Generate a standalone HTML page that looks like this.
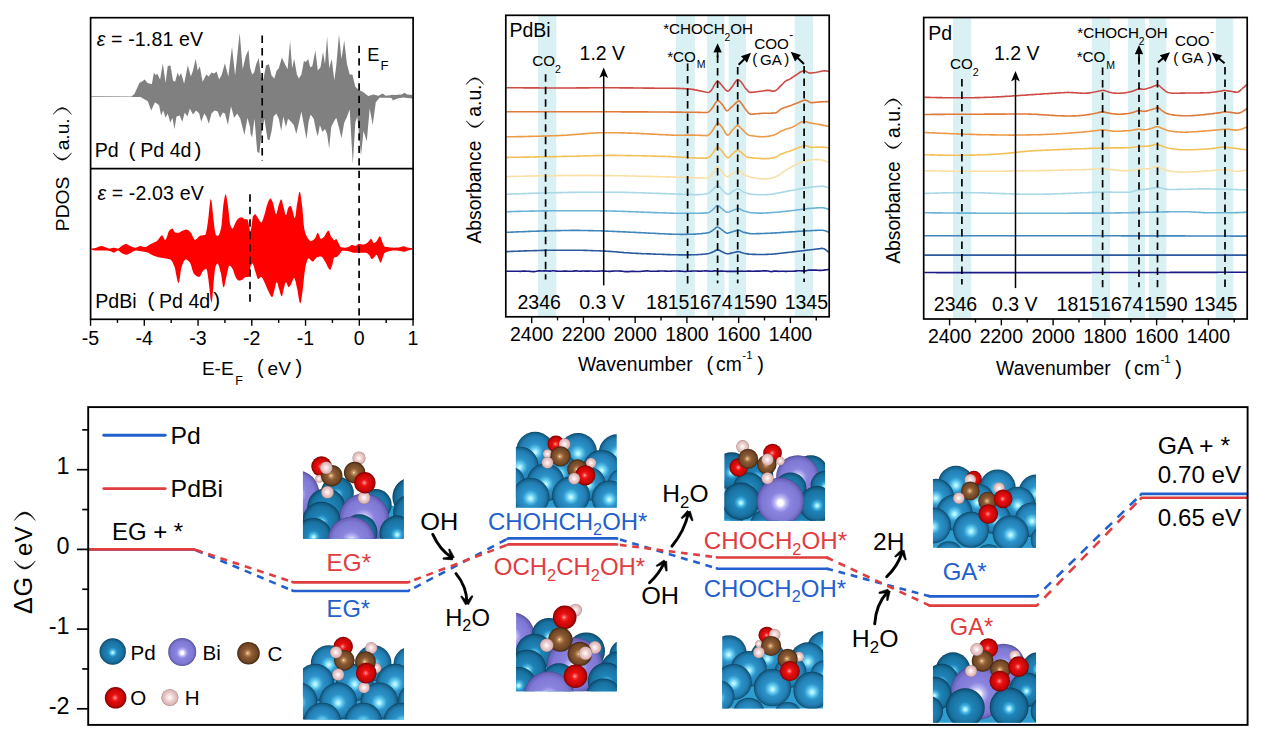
<!DOCTYPE html>
<html><head><meta charset="utf-8"><title>figure</title>
<style>
html,body{margin:0;padding:0;background:#fff;}
body{width:1269px;height:730px;overflow:hidden;font-family:"Liberation Sans",sans-serif;}
svg{display:block;font-family:"Liberation Sans",sans-serif;}
</style></head><body>
<svg width="1269" height="730" viewBox="0 0 1269 730">
<rect x="0" y="0" width="1269" height="730" fill="#fff"/>
<g id="p1">
<path d="M91.3,96.2 131.3,96.5 134.4,94 139.5,82.7 141.6,81.7 144.7,79.6 147.8,83.3 151.9,84.1 153.9,72.4 155.4,75.1 157.4,73.9 160.1,79.6 162.8,63.2 165.6,82.7 167.7,66.3 170.4,65.2 173,80.6 175.1,81.7 177.6,72.4 179.2,76.5 181.1,73 184.1,83.7 187.8,65.2 190.9,76.5 193,70.4 195.7,58.7 197.7,70.4 199.8,66.3 202.6,81.7 206.3,74.5 208.8,76.5 211.5,72.4 214.2,73.5 216.6,71.4 219.1,79.6 221.8,74.5 224.9,63.2 228.3,76.5 232,46.7 235.1,75.5 239.7,32.7 242.7,69.3 245.8,56 248.5,49.8 250,67.3 251.6,72.4 252.1,74.5 254.1,72.4 256.2,64.2 258.6,58 261.3,77.6 263.4,79.6 266,65.2 268.9,64.2 271.6,75.5 274.3,78.6 276.7,70.4 278.8,68.3 281.9,57.4 285,64.2 287.6,69.3 290.1,41 292.1,68.3 294.2,59.1 296.9,74.5 298.9,78.6 301.4,74.5 303.9,61.1 305.9,62.1 308.2,59.1 310.2,67.3 312.3,66.3 315.4,50.4 317.8,70.4 320.5,67.3 323,51.9 325,64.2 327.1,36.4 329.2,68.3 331.8,59.1 334.3,80.6 336.3,65.2 339,34.4 341.5,59.1 344.2,40.6 347,64.2 349.7,74.5 352.4,74.5 355.3,86.8 359,89.9 363.1,92 368.2,96.1 373.4,94.4 378.5,95.7 382.6,93.6 385.7,95.7 390,95.2 392.1,94.8 394.8,95.1 401.6,94.4 404.7,92.7 407.1,94.4 412.6,95.1 412.6,98.5 403,97.4 397.5,98.5 392.7,100.5 392.1,98.5 390,97.7 379.5,97.7 375.8,102.2 372.7,124.9 369.7,108.4 366.8,141.3 363.5,131 361,155.7 357.3,116.6 355.3,122.8 352.8,163.9 349.7,109.4 346.6,117.7 344.2,122.8 341.5,138.2 338.8,126.9 336.3,117.7 334.3,120.7 331.2,126.9 329.2,148.5 327.1,134.1 325,129 322.4,132 319.9,124.9 317.8,136.2 316.2,131 313.7,118.7 310.6,114.6 308.6,121.8 306.5,139.2 303.9,124.9 301.4,111.5 298.9,122.8 296.3,134.1 293.8,124.9 291.1,121.8 288,118.7 286,126.9 283.3,116.6 281.2,131 278.8,118.7 276.3,113.5 273.6,116.6 271.6,131 269.5,140.3 267.5,139.2 264.4,118.7 261.3,135.1 259.3,153.6 257.2,151.6 254.5,118.7 252.1,137.2 250.6,134.1 250,126.9 247.5,117.7 244.4,135.1 240.3,118.7 237.2,113.5 234.1,117.7 231,106.3 227.9,124.9 224.9,113.5 222.8,112.5 220.1,117.7 217.7,111.5 214.6,110.5 211.5,113.5 208.8,123.8 206.3,116.6 204.3,113.5 201.2,121.8 199.2,113.5 196.1,110.5 193,114.6 189.9,108.4 187.4,116.6 184.8,112.5 182.3,121.8 179.6,115.6 176.5,116.6 174.5,129 172.4,117.7 170.4,122.8 167.7,113.5 165.6,117.7 163.2,110.5 161.1,115.6 159.1,105.3 155,102.2 151.2,110.5 147.8,101.2 140.6,97.1 91.3,96.9Z" fill="#808080" stroke="none" stroke-width="0"/>
<path d="M91.2,248.7 91.8,248.6 92.4,248.5 93,248.4 93.7,248.3 94.3,248.2 94.9,248 95.6,247.9 96.2,247.7 96.8,247.6 97.4,247.3 98.1,247.1 98.7,246.8 99.3,246.6 99.9,246.3 100.6,246.2 101.2,246.1 101.8,246.1 102.5,246.2 103.1,246.4 103.7,246.6 104.3,246.8 105,247.1 105.6,247.4 106.2,247.6 106.8,247.8 107.5,248 108.1,248.2 108.7,248.4 109.4,248.5 110,248.5 110.6,248.4 111.2,248.3 111.9,248.1 112.5,247.9 113.1,247.8 113.7,247.7 114.4,247.8 115,247.9 115.6,248.1 116.2,248.2 116.9,248.4 117.5,248.5 118.1,248.5 118.8,248.3 119.4,247.9 120,247.3 120.6,246.7 121.3,246.2 121.9,245.7 122.5,245.4 123.1,245 123.8,244.7 124.4,244.4 125,244.2 125.7,244 126.3,244 126.9,244.2 127.5,244.5 128.2,244.8 128.8,245.2 129.4,245.7 130,246 130.7,246.2 131.3,246.5 131.9,246.8 132.5,247 133.2,247.3 133.8,247.5 134.4,247.6 135.1,247.7 135.7,247.7 136.3,247.6 136.9,247.3 137.6,247.1 138.2,246.8 138.8,246.5 139.4,246.3 140.1,246.1 140.7,246.1 141.3,246.2 142,246.4 142.6,246.6 143.2,246.8 143.8,247 144.5,247.1 145.1,247.1 145.7,246.9 146.3,246.7 147,246.4 147.6,246 148.2,245.6 148.9,245.2 149.5,244.8 150.1,244.4 150.7,244 151.4,243.7 152,243.5 152.6,243.2 153.2,242.9 153.9,242.6 154.5,242.3 155.1,242 155.7,241.7 156.4,241.3 157,240.9 157.6,240.3 158.3,239.5 158.9,238.7 159.5,237.7 160.1,236.9 160.8,236.1 161.4,235.6 162,235.4 162.6,235.8 163.3,236.8 163.9,238.2 164.5,239.4 165.2,239.9 165.8,239.4 166.4,238.2 167,236.4 167.7,234.5 168.3,232.6 168.9,231.2 169.5,230.4 170.2,229.8 170.8,229.3 171.4,228.9 172.1,228.6 172.7,228.7 173.3,229.5 173.9,230.7 174.6,231.9 175.2,232.6 175.8,232.7 176.4,232.7 177.1,232.7 177.7,232.7 178.3,232.7 178.9,232.7 179.6,232.4 180.2,232.1 180.8,231.7 181.5,231.3 182.1,230.9 182.7,230.6 183.3,230.4 184,230.2 184.6,230 185.2,229.8 185.8,229.7 186.5,229.6 187.1,229.7 187.7,229.9 188.4,230.2 189,230.8 189.6,231.4 190.2,232 190.9,232.7 191.5,233.6 192.1,234.9 192.7,236.4 193.4,237.8 194,239 194.6,239.8 195.2,239.9 195.9,239.6 196.5,239.1 197.1,238.5 197.8,237.8 198.4,237.1 199,236.5 199.6,236 200.3,235.7 200.9,235.6 201.5,235.5 202.1,235.4 202.8,235.3 203.4,235.3 204,235.1 204.7,235 205.3,234.8 205.9,233.4 206.5,230.4 207.2,226.5 207.8,222.4 208.4,217.8 209,211.5 209.7,205.1 210.3,200.3 210.9,198.8 211.6,201.4 212.2,206.6 212.8,212.9 213.4,218.8 214.1,224.4 214.7,229.8 215.3,233.1 215.9,235.1 216.6,235.5 217.2,235.7 217.8,235.8 218.4,235.6 219.1,234.7 219.7,233.1 220.3,231 221,228.5 221.6,224.8 222.2,218.1 222.8,210.3 223.5,204 224.1,200.2 224.7,196.8 225.3,194.6 226,194.6 226.6,197.3 227.2,201.5 227.9,205.6 228.5,210.8 229.1,216.7 229.7,222 230.4,225.4 231,226.8 231.6,227.9 232.2,228.5 232.9,228.4 233.5,227.4 234.1,225.8 234.8,224.2 235.4,222.7 236,221.7 236.6,220.7 237.3,219.7 237.9,218.9 238.5,218.4 239.1,218.1 239.8,217.8 240.4,217.5 241,217.4 241.6,217.3 242.3,217.5 242.9,218 243.5,218.6 244.2,219.1 244.8,219.3 245.4,219.3 246,219.3 246.7,219.3 247.3,219.3 247.9,220.3 248.5,223.6 249.2,226.7 249.8,230.2 250.4,231.7 251.1,229.3 251.7,224.7 252.3,219.7 252.9,216.5 253.6,215.4 254.2,214.7 254.8,214.3 255.4,214.3 256.1,214.9 256.7,215.9 257.3,217 257.9,218 258.6,218.9 259.2,220 259.8,221.1 260.5,221.9 261.1,222.4 261.7,222.2 262.3,221.1 263,219.5 263.6,217.5 264.2,215.6 264.8,213.6 265.5,211.1 266.1,208.5 266.7,206.1 267.4,204.1 268,202.5 268.6,201 269.2,199.7 269.9,198.7 270.5,198.4 271.1,198.8 271.7,199.9 272.4,201.4 273,202.9 273.6,205.2 274.3,208.2 274.9,211.2 275.5,213.4 276.1,214.2 276.8,213 277.4,210.6 278,207.7 278.6,205.2 279.3,203.3 279.9,201.4 280.5,199.9 281.1,199.2 281.8,200.1 282.4,202.5 283,205.1 283.7,207.5 284.3,210.3 284.9,213 285.5,214.9 286.2,215.1 286.8,213.4 287.4,210.7 288,208.2 288.7,206.9 289.3,206.5 289.9,206.1 290.6,206 291.2,206.5 291.8,208.2 292.4,210.3 293.1,212.4 293.7,215.2 294.3,217.6 294.9,218.2 295.6,215.4 296.2,210.6 296.8,205.6 297.5,201.7 298.1,197.9 298.7,194.4 299.3,192 300,191.9 300.6,194.5 301.2,198.9 301.8,203.5 302.5,209.6 303.1,217.1 303.7,224.3 304.3,229.2 305,231.8 305.6,233.8 306.2,235.4 306.9,236.8 307.5,237.8 308.1,238.7 308.7,239.6 309.4,240.3 310,240.8 310.6,240.9 311.2,240.9 311.9,240.7 312.5,240.4 313.1,240 313.8,239.6 314.4,239.1 315,238.5 315.6,237.2 316.3,235.5 316.9,233.8 317.5,232.8 318.1,232.9 318.8,234.2 319.4,236 320,237.7 320.6,238.8 321.3,238.8 321.9,238.5 322.5,238.1 323.2,237.6 323.8,237 324.4,236.3 325,235.4 325.7,234.3 326.3,233.1 326.9,232 327.5,231.2 328.2,230.7 328.8,230.8 329.4,232.1 330.1,234 330.7,235.9 331.3,237 331.9,237.6 332.6,238.2 333.2,239.1 333.8,240.2 334.4,240.3 335.1,239.8 335.7,239.2 336.3,239.1 337,239.8 337.6,241.2 338.2,242.4 338.8,243.7 339.5,245.1 340.1,246.4 340.7,247.1 341.3,247.3 342,247.4 342.6,247.5 343.2,247.6 343.8,247.6 344.5,247.7 345.1,247.7 345.7,247.6 346.4,247.5 347,247.4 347.6,247.2 348.2,246.9 348.9,246.7 349.5,246.4 350.1,246 350.7,245.5 351.4,245.1 352,244.9 352.6,245 353.3,245.3 353.9,245.5 354.5,245.7 355.1,245.9 355.8,245.8 356.4,245.4 357,244.9 357.6,244.4 358.3,244 358.9,243.8 359.5,243.9 360.2,244 360.8,244.2 361.4,244.3 362,244.4 362.7,244.5 363.3,244.5 363.9,244.4 364.5,244.2 365.2,244 365.8,243.8 366.4,243.5 367,243.1 367.7,242.5 368.3,241.8 368.9,241.1 369.6,240.2 370.2,239.4 370.8,238.8 371.4,239 372.1,240 372.7,241.5 373.3,242.7 373.9,243.1 374.6,242.9 375.2,242.5 375.8,241.9 376.5,241.2 377.1,240.5 377.7,239.4 378.3,238.2 379,237.1 379.6,236.5 380.2,236.4 380.8,237.5 381.5,239.4 382.1,241.4 382.7,243.1 383.3,244.4 384,245.7 384.6,246.5 385.2,246.7 385.9,246.9 386.5,247 387.1,247.1 387.7,247.1 388.4,247.2 389,247.3 389.6,247.3 390.2,247.4 390.9,247.5 391.5,247.5 392.1,247.6 392.8,247.6 393.4,247.7 394,247.7 394.6,247.7 395.3,247.7 395.9,247.6 396.5,247.6 397.1,247.5 397.8,247.5 398.4,247.4 399,247.4 399.7,247.3 400.3,247.2 400.9,247 401.5,246.8 402.2,246.6 402.8,246.5 403.4,246.3 404,246.3 404.7,246.4 405.3,246.6 405.9,246.9 406.5,247.2 407.2,247.4 407.8,247.6 408.4,247.7 409.1,247.8 409.7,247.8 410.3,247.9 410.9,247.9 411.6,247.9 412.2,247.9 412.2,249.6 411.6,249.7 410.9,249.8 410.3,249.9 409.7,250 409.1,250.2 408.4,250.3 407.8,250.5 407.2,250.7 406.5,251 405.9,251.3 405.3,251.5 404.7,251.7 404,251.8 403.4,251.7 402.8,251.6 402.2,251.5 401.5,251.3 400.9,251.2 400.3,251 399.7,250.9 399,250.8 398.4,250.8 397.8,250.7 397.1,250.6 396.5,250.5 395.9,250.5 395.3,250.4 394.6,250.4 394,250.4 393.4,250.5 392.8,250.5 392.1,250.6 391.5,250.8 390.9,250.9 390.2,251 389.6,251.2 389,251.3 388.4,251.5 387.7,251.6 387.1,251.8 386.5,252 385.9,252.2 385.2,252.5 384.6,252.9 384,254.1 383.3,255.9 382.7,257.6 382.1,259.5 381.5,261.5 380.8,262.7 380.2,262.4 379.6,261.2 379,259.6 378.3,258.3 377.7,256.6 377.1,255.2 376.5,254.8 375.8,255.2 375.2,255.9 374.6,256.7 373.9,257.4 373.3,258.1 372.7,258.7 372.1,259.1 371.4,259 370.8,258.1 370.2,256.8 369.6,255.5 368.9,254.7 368.3,254.1 367.7,253.6 367,253.2 366.4,252.9 365.8,252.7 365.2,252.7 364.5,252.7 363.9,252.7 363.3,252.7 362.7,252.7 362,252.7 361.4,252.7 360.8,252.7 360.2,252.7 359.5,252.7 358.9,252.7 358.3,252.7 357.6,252.7 357,252.7 356.4,252.7 355.8,252.7 355.1,252.7 354.5,252.7 353.9,252.7 353.3,252.7 352.6,252.6 352,252.4 351.4,252.1 350.7,251.8 350.1,251.7 349.5,251.5 348.9,251.4 348.2,251.2 347.6,251.1 347,251 346.4,251 345.7,250.9 345.1,250.8 344.5,250.8 343.8,250.7 343.2,250.7 342.6,250.7 342,250.8 341.3,251.4 340.7,252.4 340.1,253.4 339.5,254.3 338.8,255 338.2,255.7 337.6,256.4 337,256.8 336.3,257 335.7,257.1 335.1,257.2 334.4,257.4 333.8,258 333.2,260.5 332.6,263.8 331.9,266.1 331.3,267.8 330.7,269.2 330.1,269.9 329.4,269.5 328.8,268.7 328.2,267.6 327.5,266.4 326.9,265.1 326.3,263.8 325.7,262.6 325,261.6 324.4,260.6 323.8,259.5 323.2,258.5 322.5,257.6 321.9,256.9 321.3,256.4 320.6,256.4 320,256.4 319.4,256.5 318.8,256.7 318.1,256.9 317.5,257.1 316.9,257.3 316.3,257.7 315.6,258.4 315,259.2 314.4,260.1 313.8,260.9 313.1,261.4 312.5,261.5 311.9,261.2 311.2,260.6 310.6,260 310,259.3 309.4,258.7 308.7,258.4 308.1,258.6 307.5,259.7 306.9,261.4 306.2,263.6 305.6,266 305,269.5 304.3,274.8 303.7,280.9 303.1,286.4 302.5,291.3 301.8,296.4 301.2,300.8 300.6,303.3 300,303.3 299.3,301.2 298.7,297.9 298.1,294.1 297.5,290.2 296.8,287.2 296.2,284.4 295.6,281.6 294.9,279.2 294.3,278 293.7,278.2 293.1,279.3 292.4,280.9 291.8,282.6 291.2,283.9 290.6,284.9 289.9,286 289.3,286.8 288.7,287.2 288,286.6 287.4,285.1 286.8,283.3 286.2,282.2 285.5,282.4 284.9,284.2 284.3,286.7 283.7,289.1 283,292.2 282.4,295.2 281.8,296.4 281.1,295.7 280.5,293.9 279.9,291.7 279.3,289.6 278.6,287.6 278,285.2 277.4,283.1 276.8,282.1 276.1,282.9 275.5,285.4 274.9,288.3 274.3,290.6 273.6,293.2 273,295.6 272.4,296.9 271.7,296.9 271.1,296.3 270.5,295.4 269.9,294.2 269.2,292.9 268.6,291.6 268,290.4 267.4,289 266.7,287.5 266.1,286 265.5,284.5 264.8,283.1 264.2,281.8 263.6,280.5 263,279.1 262.3,277.9 261.7,277.1 261.1,276.9 260.5,277.3 259.8,277.8 259.2,278.4 258.6,278.9 257.9,278.9 257.3,277.9 256.7,276.1 256.1,273.9 255.4,271.8 254.8,269.9 254.2,267.8 253.6,265.6 252.9,264 252.3,263.6 251.7,264 251.1,265 250.4,266.5 249.8,270.7 249.2,276.2 248.5,276.9 247.9,276.9 247.3,276.9 246.7,276.9 246,276.9 245.4,277 244.8,277.4 244.2,277.9 243.5,278.6 242.9,279.2 242.3,279.7 241.6,280 241,280.2 240.4,280.4 239.8,280.5 239.1,280.6 238.5,280.6 237.9,280.3 237.3,279.6 236.6,278.7 236,277.7 235.4,276.6 234.8,275 234.1,273.1 233.5,271.1 232.9,269.4 232.2,268.3 231.6,267.4 231,266.6 230.4,266 229.7,265.7 229.1,265.8 228.5,267.3 227.9,269.8 227.2,272.8 226.6,275.7 226,278.4 225.3,281.6 224.7,284.8 224.1,287 223.5,287.5 222.8,285.4 222.2,281.6 221.6,277.3 221,273.6 220.3,271.2 219.7,268.8 219.1,266.5 218.4,264.8 217.8,263.7 217.2,263.6 216.6,264.3 215.9,265.6 215.3,267.5 214.7,271.2 214.1,277.6 213.4,285.4 212.8,293.3 212.2,299.5 211.6,302.5 210.9,301.3 210.3,296.9 209.7,290.8 209,284.5 208.4,279.3 207.8,275.3 207.2,271.3 206.5,268.9 205.9,268.7 205.3,269 204.7,269.4 204,270 203.4,270.6 202.8,271.3 202.1,272.3 201.5,273.6 200.9,274.8 200.3,275.9 199.6,276.7 199,276.9 198.4,276.8 197.8,276.6 197.1,276.4 196.5,276 195.9,275.5 195.2,275 194.6,274.5 194,273.9 193.4,272.8 192.7,271.1 192.1,269 191.5,266.8 190.9,264.7 190.2,263.1 189.6,262.2 189,261.5 188.4,260.9 187.7,260.3 187.1,259.9 186.5,259.6 185.8,259.4 185.2,259.6 184.6,260.2 184,261.1 183.3,262.4 182.7,263.8 182.1,265.4 181.5,267.2 180.8,270.6 180.2,275 179.6,279.4 178.9,282.4 178.3,283 177.7,281.6 177.1,279.1 176.4,275.8 175.8,272.4 175.2,269.3 174.6,267 173.9,265.4 173.3,263.9 172.7,262.6 172.1,261.4 171.4,260.4 170.8,259.7 170.2,259.4 169.5,259.2 168.9,259 168.3,258.9 167.7,258.8 167,258.7 166.4,258.6 165.8,258.5 165.2,258.4 164.5,258.3 163.9,258.2 163.3,258.1 162.6,258 162,257.9 161.4,257.8 160.8,257.7 160.1,257.6 159.5,257.5 158.9,257.3 158.3,257.2 157.6,257 157,256.8 156.4,256.6 155.7,256.4 155.1,256.2 154.5,256 153.9,255.7 153.2,255.5 152.6,255.2 152,254.9 151.4,254.6 150.7,254.2 150.1,253.9 149.5,253.5 148.9,253.1 148.2,252.8 147.6,252.5 147,252.3 146.3,252.2 145.7,252 145.1,251.9 144.5,251.8 143.8,251.7 143.2,251.6 142.6,251.5 142,251.4 141.3,251.3 140.7,251.2 140.1,251.1 139.4,251 138.8,250.9 138.2,250.8 137.6,250.8 136.9,250.7 136.3,250.6 135.7,250.6 135.1,250.6 134.4,250.8 133.8,251 133.2,251.4 132.5,251.8 131.9,252.3 131.3,252.7 130.7,253.1 130,253.3 129.4,253.6 128.8,253.9 128.2,254.2 127.5,254.4 126.9,254.6 126.3,254.7 125.7,254.7 125,254.6 124.4,254.3 123.8,254.1 123.1,253.8 122.5,253.5 121.9,253.2 121.3,252.8 120.6,252.3 120,251.7 119.4,251.2 118.8,250.8 118.1,250.6 117.5,250.6 116.9,250.9 116.2,251.3 115.6,251.8 115,252.2 114.4,252.5 113.7,252.6 113.1,252.5 112.5,252.2 111.9,251.8 111.2,251.4 110.6,251.2 110,251 109.4,250.9 108.7,250.8 108.1,250.7 107.5,250.6 106.8,250.6 106.2,250.6 105.6,250.6 105,250.6 104.3,250.6 103.7,250.6 103.1,250.6 102.5,250.6 101.8,250.6 101.2,250.6 100.6,250.6 99.9,250.6 99.3,250.6 98.7,250.6 98.1,250.6 97.4,250.6 96.8,250.6 96.2,250.6 95.6,250.6 94.9,250.5 94.3,250.4 93.7,250.3 93,250.1 92.4,249.9 91.8,249.8 91.2,249.6Z" fill="#ff0000" stroke="none" stroke-width="0"/>
<line x1="262.2" y1="35.5" x2="262.2" y2="161" stroke="#000" stroke-width="1.7" stroke-dasharray="7.4,5.1"/>
<line x1="359.1" y1="45.7" x2="359.1" y2="319.3" stroke="#000" stroke-width="1.7" stroke-dasharray="7.4,5.1"/>
<line x1="250" y1="194.3" x2="250" y2="305" stroke="#000" stroke-width="1.7" stroke-dasharray="7.4,5.1"/>
<rect x="90.6" y="17.7" width="322.5" height="301.6" fill="none" stroke="#000" stroke-width="1.7"/>
<line x1="90.6" y1="168.6" x2="413.1" y2="168.6" stroke="#000" stroke-width="1.7"/>
<line x1="90.55" y1="319.3" x2="90.55" y2="325.8" stroke="#000" stroke-width="1.4"/>
<text x="90.55" y="344.6" font-size="19.6" fill="#000" text-anchor="middle" textLength="17.42" lengthAdjust="spacingAndGlyphs">-5</text>
<line x1="117.43" y1="319.3" x2="117.43" y2="322.9" stroke="#000" stroke-width="1.4"/>
<line x1="144.3" y1="319.3" x2="144.3" y2="325.8" stroke="#000" stroke-width="1.4"/>
<text x="144.3" y="344.6" font-size="19.6" fill="#000" text-anchor="middle" textLength="17.42" lengthAdjust="spacingAndGlyphs">-4</text>
<line x1="171.18" y1="319.3" x2="171.18" y2="322.9" stroke="#000" stroke-width="1.4"/>
<line x1="198.05" y1="319.3" x2="198.05" y2="325.8" stroke="#000" stroke-width="1.4"/>
<text x="198.05" y="344.6" font-size="19.6" fill="#000" text-anchor="middle" textLength="17.42" lengthAdjust="spacingAndGlyphs">-3</text>
<line x1="224.93" y1="319.3" x2="224.93" y2="322.9" stroke="#000" stroke-width="1.4"/>
<line x1="251.8" y1="319.3" x2="251.8" y2="325.8" stroke="#000" stroke-width="1.4"/>
<text x="251.8" y="344.6" font-size="19.6" fill="#000" text-anchor="middle" textLength="17.42" lengthAdjust="spacingAndGlyphs">-2</text>
<line x1="278.68" y1="319.3" x2="278.68" y2="322.9" stroke="#000" stroke-width="1.4"/>
<line x1="305.55" y1="319.3" x2="305.55" y2="325.8" stroke="#000" stroke-width="1.4"/>
<text x="305.55" y="344.6" font-size="19.6" fill="#000" text-anchor="middle" textLength="17.42" lengthAdjust="spacingAndGlyphs">-1</text>
<line x1="332.43" y1="319.3" x2="332.43" y2="322.9" stroke="#000" stroke-width="1.4"/>
<line x1="359.3" y1="319.3" x2="359.3" y2="325.8" stroke="#000" stroke-width="1.4"/>
<text x="359.3" y="344.6" font-size="19.6" fill="#000" text-anchor="middle" textLength="10.9" lengthAdjust="spacingAndGlyphs">0</text>
<line x1="386.18" y1="319.3" x2="386.18" y2="322.9" stroke="#000" stroke-width="1.4"/>
<line x1="413.05" y1="319.3" x2="413.05" y2="325.8" stroke="#000" stroke-width="1.4"/>
<text x="413.05" y="344.6" font-size="19.6" fill="#000" text-anchor="middle" textLength="10.9" lengthAdjust="spacingAndGlyphs">1</text>
<text x="96.7" y="46.4" font-size="19.6" fill="#000" text-anchor="start" textLength="106.4" lengthAdjust="spacing"><tspan font-style="italic">ε</tspan> = -1.81 eV</text>
<text x="97.4" y="199.8" font-size="19.6" fill="#000" text-anchor="start" textLength="106.4" lengthAdjust="spacing"><tspan font-style="italic">ε</tspan> = -2.03 eV</text>
<text x="94.8" y="157.4" font-size="19.6" fill="#000" text-anchor="start">Pd</text>
<text x="128.5" y="156.6" font-size="20.5" fill="#000" text-anchor="start">(</text>
<text x="140.3" y="157.4" font-size="19.6" fill="#000" text-anchor="start">Pd 4d</text>
<text x="194.5" y="156.6" font-size="20.5" fill="#000" text-anchor="start">)</text>
<text x="95.3" y="307.8" font-size="19.6" fill="#000" text-anchor="start">PdBi</text>
<text x="147.5" y="307" font-size="20.5" fill="#000" text-anchor="start">(</text>
<text x="159" y="307.8" font-size="19.6" fill="#000" text-anchor="start">Pd 4d</text>
<text x="213.2" y="307" font-size="20.5" fill="#000" text-anchor="start">)</text>
<text x="367.2" y="60.8" font-size="18.2" fill="#000" text-anchor="start">E</text>
<text x="380.6" y="70.4" font-size="13.2" fill="#000" text-anchor="start">F</text>
<text x="201.9" y="375" font-size="19" fill="#000" text-anchor="start">E-E</text>
<text x="235.2" y="384.5" font-size="12.5" fill="#000" text-anchor="start">F</text>
<text x="257" y="374.3" font-size="20" fill="#000" text-anchor="start">(</text>
<text x="267.6" y="375" font-size="19" fill="#000" text-anchor="start">eV</text>
<text x="295.6" y="374.3" font-size="20" fill="#000" text-anchor="start">)</text>
<text transform="translate(69.1,231.2) rotate(-90)" font-size="19.2" fill="#000" textLength="54.5" lengthAdjust="spacing">PDOS</text>
<path d="M53.2,153 Q62.35,167.4 71.5,153 Q62.35,164.7 53.2,153Z" fill="#000" stroke="#000" stroke-width="0.5" stroke-linejoin="round"/>
<text transform="translate(69.1,150.3) rotate(-90)" font-size="19.2" fill="#000">a.u.</text>
<path d="M53.2,114.3 Q62.35,100.7 71.5,114.3 Q62.35,103.4 53.2,114.3Z" fill="#000" stroke="#000" stroke-width="0.5" stroke-linejoin="round"/>
</g>
<g id="p2">
<rect x="538" y="15.3" width="18.3" height="301.5" fill="#daf1f4" stroke="none" stroke-width="0"/>
<rect x="676" y="15.3" width="18.8" height="301.5" fill="#daf1f4" stroke="none" stroke-width="0"/>
<rect x="707.1" y="15.3" width="17.4" height="301.5" fill="#daf1f4" stroke="none" stroke-width="0"/>
<rect x="728.6" y="15.3" width="17.4" height="301.5" fill="#daf1f4" stroke="none" stroke-width="0"/>
<rect x="794.7" y="15.3" width="18.3" height="301.5" fill="#daf1f4" stroke="none" stroke-width="0"/>
<path d="M506.5,87.7 507.8,87.7 509,87.7 510.2,87.7 511.5,87.8 512.8,87.8 514,87.8 515.2,87.8 516.5,87.8 517.8,87.8 519,87.8 520.2,87.8 521.5,87.8 522.8,87.8 524,87.9 525.2,87.9 526.5,87.9 527.8,87.9 529,87.9 530.2,87.9 531.5,87.9 532.8,87.9 534,87.9 535.2,87.9 536.5,87.9 537.8,87.9 539,87.9 540.2,88 541.5,88 542.8,88 544,88 545.2,88 546.5,88 547.8,88 549,88 550.2,88 551.5,88 552.8,88 554,88 555.2,88 556.5,88 557.8,88 559,88 560.2,88 561.5,88 562.8,88 564,88 565.2,88 566.5,88 567.8,88 569,88 570.2,88 571.5,88 572.8,88 574,88 575.2,88 576.5,87.9 577.8,87.9 579,87.9 580.2,87.9 581.5,87.9 582.8,87.9 584,87.9 585.2,87.9 586.5,87.9 587.8,87.9 589,87.9 590.2,87.8 591.5,87.8 592.8,87.8 594,87.8 595.2,87.8 596.5,87.8 597.8,87.8 599,87.8 600.2,87.8 601.5,87.8 602.8,87.8 604,87.8 605.2,87.8 606.5,87.8 607.8,87.8 609,87.8 610.2,87.8 611.5,87.8 612.8,87.8 614,87.8 615.2,87.8 616.5,87.8 617.8,87.8 619,87.8 620.2,87.9 621.5,87.9 622.8,87.9 624,87.9 625.2,87.9 626.5,87.9 627.8,87.9 629,87.9 630.2,87.9 631.5,87.9 632.8,87.9 634,88 635.2,88 636.5,88 637.8,88 639,88 640.2,88 641.5,88 642.8,88 644,88.1 645.2,88.1 646.5,88.1 647.8,88.1 649,88.1 650.2,88.1 651.5,88.1 652.8,88.1 654,88.1 655.2,88.2 656.5,88.2 657.8,88.2 659,88.2 660.2,88.2 661.5,88.2 662.8,88.2 664,88.2 665.2,88.2 666.5,88.2 667.8,88.3 669,88.3 670.2,88.3 671.5,88.3 672.8,88.3 674,88.3 675.2,88.3 676.5,88.4 677.8,88.4 679,88.4 680.2,88.5 681.5,88.5 682.8,88.6 684,88.6 685.2,88.7 686.5,88.8 687.8,88.9 689,89 690.2,89.1 691.5,89.2 692.8,89.4 694,89.6 695.2,89.9 696.5,90.1 697.8,90.4 699,90.7 700.2,90.9 701.5,91.2 702.8,91.5 704,91.8 705.2,92 706.5,92.3 707.8,92.5 709,92.3 710.2,91.5 711.5,90.2 712.8,88.1 714,85.7 715.2,83.7 716.5,81.9 717.8,81.3 719,82.1 720.2,83.4 721.5,84.9 722.8,86.5 724,88.1 725.2,89.5 726.5,90.7 727.8,91.2 729,90.6 730.2,89.3 731.5,87.6 732.8,85.9 734,83.9 735.2,82.1 736.5,80.5 737.8,79.7 739,80 740.2,81.1 741.5,82.6 742.8,84.3 744,86.1 745.2,87.9 746.5,89.4 747.8,90.8 749,91.9 750.2,92.4 751.5,92.4 752.8,92.3 754,92.1 755.2,92 756.5,91.8 757.8,91.7 759,91.5 760.2,91.3 761.5,91.2 762.8,91 764,90.8 765.2,90.6 766.5,90.4 767.8,90.3 769,90.4 770.2,90.6 771.5,90.9 772.8,91.1 774,91.1 775.2,90.8 776.5,90 777.8,88.9 779,87.6 780.2,86.4 781.5,85.1 782.8,83.8 784,82.5 785.2,81.4 786.5,80.6 787.8,80 789,79.5 790.2,78.9 791.5,78 792.8,77.2 794,76.4 795.2,75.5 796.5,74.7 797.8,73.9 799,73 800.2,72.2 801.5,71.5 802.8,71.1 804,71 805.2,71.1 806.5,71.7 807.8,72.4 809,73 810.2,73.1 811.5,73 812.8,72.8 814,72.7 815.2,72.5 816.5,72.3 817.8,72 819,71.8 820.2,71.5 821.5,71.2 822.8,71 824,70.9 825.2,70.9 826.5,71 827.8,71.2 828.9,71.4" fill="none" stroke="#cd4a45" stroke-width="1.6" stroke-linejoin="round" stroke-linecap="butt"/>
<path d="M506.5,111.8 507.8,111.8 509,111.8 510.2,111.8 511.5,111.8 512.8,111.8 514,111.8 515.2,111.8 516.5,111.8 517.8,111.8 519,111.8 520.2,111.8 521.5,111.8 522.8,111.8 524,111.8 525.2,111.8 526.5,111.8 527.8,111.8 529,111.8 530.2,111.8 531.5,111.8 532.8,111.8 534,111.8 535.2,111.8 536.5,111.8 537.8,111.8 539,111.8 540.2,111.8 541.5,111.8 542.8,111.8 544,111.8 545.2,111.8 546.5,111.8 547.8,111.8 549,111.8 550.2,111.8 551.5,111.8 552.8,111.8 554,111.8 555.2,111.8 556.5,111.8 557.8,111.8 559,111.8 560.2,111.8 561.5,111.8 562.8,111.8 564,111.8 565.2,111.8 566.5,111.8 567.8,111.8 569,111.8 570.2,111.8 571.5,111.8 572.8,111.8 574,111.8 575.2,111.8 576.5,111.8 577.8,111.8 579,111.8 580.2,111.8 581.5,111.8 582.8,111.8 584,111.8 585.2,111.8 586.5,111.8 587.8,111.8 589,111.8 590.2,111.8 591.5,111.8 592.8,111.8 594,111.8 595.2,111.8 596.5,111.8 597.8,111.8 599,111.8 600.2,111.8 601.5,111.8 602.8,111.8 604,111.8 605.2,111.8 606.5,111.8 607.8,111.8 609,111.8 610.2,111.8 611.5,111.8 612.8,111.8 614,111.8 615.2,111.8 616.5,111.8 617.8,111.8 619,111.8 620.2,111.8 621.5,111.9 622.8,111.9 624,111.9 625.2,111.9 626.5,111.9 627.8,111.9 629,111.9 630.2,111.9 631.5,111.9 632.8,111.9 634,111.9 635.2,111.9 636.5,111.9 637.8,111.9 639,111.9 640.2,111.9 641.5,111.9 642.8,111.9 644,111.9 645.2,111.9 646.5,111.9 647.8,111.9 649,112 650.2,112 651.5,112 652.8,112 654,112 655.2,112 656.5,112 657.8,112 659,112 660.2,112 661.5,112 662.8,112 664,112 665.2,112 666.5,112 667.8,112 669,112 670.2,112.1 671.5,112.1 672.8,112.1 674,112.1 675.2,112.1 676.5,112.1 677.8,112.1 679,112.1 680.2,112.1 681.5,112.1 682.8,112.2 684,112.2 685.2,112.2 686.5,112.2 687.8,112.2 689,112.2 690.2,112.2 691.5,112.2 692.8,112.2 694,112.3 695.2,112.3 696.5,112.3 697.8,112.4 699,112.4 700.2,112.4 701.5,112.5 702.8,112.5 704,112.5 705.2,112.5 706.5,112.5 707.8,112.3 709,111.6 710.2,110.5 711.5,109.1 712.8,107.3 714,105.3 715.2,103.4 716.5,101.6 717.8,100.7 719,101.1 720.2,102.3 721.5,103.7 722.8,105.1 724,107.2 725.2,109.3 726.5,110.7 727.8,110.6 729,109.5 730.2,108.3 731.5,107.1 732.8,106 734,104.8 735.2,103.6 736.5,102.4 737.8,101.3 739,100.7 740.2,101.8 741.5,103.5 742.8,105.3 744,107.1 745.2,108.9 746.5,110.6 747.8,112.1 749,113.4 750.2,114.1 751.5,114.2 752.8,114.1 754,114 755.2,113.9 756.5,113.8 757.8,113.7 759,113.6 760.2,113.5 761.5,113.4 762.8,113.3 764,113.3 765.2,113.3 766.5,113.2 767.8,113.2 769,113.2 770.2,113.2 771.5,113.1 772.8,113.1 774,113 775.2,112.9 776.5,112.6 777.8,111.7 779,110.7 780.2,109.6 781.5,108.7 782.8,108.2 784,107.7 785.2,107.3 786.5,106.9 787.8,106.5 789,106.1 790.2,105.7 791.5,105.3 792.8,104.8 794,104.3 795.2,103.8 796.5,103.3 797.8,102.7 799,102.2 800.2,101.7 801.5,101.2 802.8,100.7 804,100.3 805.2,100.1 806.5,100.5 807.8,101.1 809,101.8 810.2,102.4 811.5,102.7 812.8,102.6 814,102.5 815.2,102.4 816.5,102.3 817.8,102.1 819,102 820.2,101.9 821.5,101.9 822.8,101.8 824,101.7 825.2,101.7 826.5,101.6 827.8,101.6 828.9,101.5" fill="none" stroke="#de7a3c" stroke-width="1.6" stroke-linejoin="round" stroke-linecap="butt"/>
<path d="M506.5,136.7 507.8,136.7 509,136.7 510.2,136.7 511.5,136.7 512.8,136.7 514,136.7 515.2,136.7 516.5,136.6 517.8,136.6 519,136.6 520.2,136.6 521.5,136.6 522.8,136.6 524,136.5 525.2,136.5 526.5,136.5 527.8,136.5 529,136.4 530.2,136.4 531.5,136.4 532.8,136.3 534,136.3 535.2,136.3 536.5,136.3 537.8,136.2 539,136.2 540.2,136.2 541.5,136.1 542.8,136.1 544,136 545.2,136 546.5,136 547.8,135.9 549,135.9 550.2,135.8 551.5,135.8 552.8,135.8 554,135.7 555.2,135.7 556.5,135.6 557.8,135.6 559,135.5 560.2,135.5 561.5,135.4 562.8,135.4 564,135.3 565.2,135.2 566.5,135.2 567.8,135.1 569,135 570.2,134.9 571.5,134.8 572.8,134.7 574,134.6 575.2,134.5 576.5,134.4 577.8,134.3 579,134.2 580.2,134.1 581.5,134 582.8,133.9 584,133.8 585.2,133.7 586.5,133.6 587.8,133.5 589,133.4 590.2,133.3 591.5,133.2 592.8,133.1 594,133 595.2,133 596.5,132.9 597.8,132.8 599,132.8 600.2,132.8 601.5,132.7 602.8,132.7 604,132.7 605.2,132.7 606.5,132.7 607.8,132.7 609,132.7 610.2,132.7 611.5,132.7 612.8,132.7 614,132.7 615.2,132.7 616.5,132.8 617.8,132.8 619,132.8 620.2,132.8 621.5,132.9 622.8,132.9 624,132.9 625.2,133 626.5,133 627.8,133.1 629,133.1 630.2,133.1 631.5,133.2 632.8,133.2 634,133.3 635.2,133.3 636.5,133.4 637.8,133.4 639,133.5 640.2,133.5 641.5,133.6 642.8,133.6 644,133.7 645.2,133.7 646.5,133.8 647.8,133.9 649,133.9 650.2,134 651.5,134.1 652.8,134.1 654,134.2 655.2,134.3 656.5,134.3 657.8,134.4 659,134.5 660.2,134.6 661.5,134.6 662.8,134.7 664,134.8 665.2,134.8 666.5,134.9 667.8,134.9 669,135 670.2,135 671.5,135.1 672.8,135.1 674,135.2 675.2,135.2 676.5,135.2 677.8,135.2 679,135.2 680.2,135.2 681.5,135.2 682.8,135.2 684,135.2 685.2,135.1 686.5,135.1 687.8,135.1 689,135.1 690.2,135.1 691.5,135.1 692.8,135.1 694,135.1 695.2,135.2 696.5,135.2 697.8,135.3 699,135.3 700.2,135.4 701.5,135.4 702.8,135.5 704,135.5 705.2,135.5 706.5,135.6 707.8,135.3 709,134.6 710.2,133.6 711.5,132.1 712.8,130.2 714,128 715.2,126.1 716.5,124.2 717.8,123.2 719,123.6 720.2,125 721.5,126.6 722.8,128.3 724,130.4 725.2,132.7 726.5,134.5 727.8,135.2 729,134.6 730.2,133.1 731.5,131.3 732.8,129.8 734,128.4 735.2,127 736.5,125.9 737.8,125.6 739,126.3 740.2,127.4 741.5,128.7 742.8,129.9 744,131.2 745.2,132.5 746.5,133.7 747.8,134.6 749,135.2 750.2,135.5 751.5,135.7 752.8,135.9 754,136 755.2,136.2 756.5,136.3 757.8,136.5 759,136.6 760.2,136.6 761.5,136.7 762.8,136.7 764,136.7 765.2,136.6 766.5,136.5 767.8,136.4 769,136.2 770.2,135.9 771.5,135.7 772.8,135.3 774,134.9 775.2,134.5 776.5,133.9 777.8,133.2 779,132.4 780.2,131.5 781.5,130.9 782.8,130.4 784,129.9 785.2,129.5 786.5,129.1 787.8,128.7 789,128.3 790.2,127.9 791.5,127.5 792.8,127 794,126.4 795.2,125.6 796.5,124.9 797.8,124.1 799,123.3 800.2,122.6 801.5,122.1 802.8,121.7 804,121.6 805.2,121.7 806.5,121.9 807.8,122.2 809,122.6 810.2,122.9 811.5,123.2 812.8,123.4 814,123.6 815.2,123.8 816.5,124 817.8,124.2 819,124.4 820.2,124.6 821.5,124.9 822.8,125.1 824,125.4 825.2,125.6 826.5,125.9 827.8,126.2 828.9,126.5" fill="none" stroke="#ec9a48" stroke-width="1.6" stroke-linejoin="round" stroke-linecap="butt"/>
<path d="M506.5,157.4 507.8,157.4 509,157.4 510.2,157.3 511.5,157.3 512.8,157.3 514,157.3 515.2,157.3 516.5,157.3 517.8,157.2 519,157.2 520.2,157.2 521.5,157.2 522.8,157.2 524,157.1 525.2,157.1 526.5,157.1 527.8,157.1 529,157.1 530.2,157 531.5,157 532.8,157 534,157 535.2,156.9 536.5,156.9 537.8,156.9 539,156.9 540.2,156.9 541.5,156.8 542.8,156.8 544,156.8 545.2,156.8 546.5,156.7 547.8,156.7 549,156.7 550.2,156.7 551.5,156.7 552.8,156.6 554,156.6 555.2,156.6 556.5,156.6 557.8,156.5 559,156.5 560.2,156.5 561.5,156.5 562.8,156.4 564,156.4 565.2,156.4 566.5,156.4 567.8,156.3 569,156.3 570.2,156.3 571.5,156.2 572.8,156.2 574,156.2 575.2,156.2 576.5,156.1 577.8,156.1 579,156.1 580.2,156 581.5,156 582.8,156 584,155.9 585.2,155.9 586.5,155.9 587.8,155.8 589,155.8 590.2,155.8 591.5,155.7 592.8,155.7 594,155.7 595.2,155.6 596.5,155.6 597.8,155.6 599,155.6 600.2,155.5 601.5,155.5 602.8,155.5 604,155.5 605.2,155.5 606.5,155.5 607.8,155.4 609,155.4 610.2,155.4 611.5,155.4 612.8,155.4 614,155.4 615.2,155.4 616.5,155.4 617.8,155.5 619,155.5 620.2,155.5 621.5,155.5 622.8,155.5 624,155.5 625.2,155.5 626.5,155.6 627.8,155.6 629,155.6 630.2,155.6 631.5,155.6 632.8,155.7 634,155.7 635.2,155.7 636.5,155.7 637.8,155.8 639,155.8 640.2,155.8 641.5,155.8 642.8,155.9 644,155.9 645.2,155.9 646.5,155.9 647.8,156 649,156 650.2,156 651.5,156 652.8,156.1 654,156.1 655.2,156.1 656.5,156.2 657.8,156.2 659,156.2 660.2,156.3 661.5,156.3 662.8,156.4 664,156.4 665.2,156.4 666.5,156.5 667.8,156.5 669,156.6 670.2,156.6 671.5,156.7 672.8,156.7 674,156.8 675.2,156.8 676.5,156.9 677.8,156.9 679,157 680.2,157.1 681.5,157.2 682.8,157.3 684,157.3 685.2,157.4 686.5,157.5 687.8,157.6 689,157.7 690.2,157.8 691.5,157.8 692.8,157.9 694,157.9 695.2,158 696.5,158 697.8,158 699,158.1 700.2,158.1 701.5,158.1 702.8,158.1 704,158.1 705.2,158.1 706.5,158.1 707.8,157.9 709,157.3 710.2,156.4 711.5,155.1 712.8,153.3 714,151.3 715.2,149.5 716.5,147.7 717.8,147.1 719,147.8 720.2,149.1 721.5,150.6 722.8,152 724,153.7 725.2,155.5 726.5,157 727.8,157.7 729,157.4 730.2,156.2 731.5,154.8 732.8,153.6 734,152.6 735.2,151.4 736.5,150.5 737.8,150.3 739,150.8 740.2,151.7 741.5,152.7 742.8,153.7 744,154.8 745.2,155.8 746.5,156.8 747.8,157.4 749,157.6 750.2,157.7 751.5,157.8 752.8,157.9 754,158 755.2,158.1 756.5,158.2 757.8,158.3 759,158.4 760.2,158.5 761.5,158.6 762.8,158.6 764,158.7 765.2,158.6 766.5,158.6 767.8,158.6 769,158.5 770.2,158.3 771.5,158.1 772.8,157.9 774,157.6 775.2,157.3 776.5,156.9 777.8,156.2 779,155.3 780.2,154.5 781.5,153.9 782.8,153.4 784,153 785.2,152.6 786.5,152.1 787.8,151.7 789,151.3 790.2,150.9 791.5,150.5 792.8,150.1 794,149.6 795.2,149.1 796.5,148.6 797.8,148.1 799,147.6 800.2,147.1 801.5,146.7 802.8,146.2 804,145.8 805.2,145.6 806.5,145.8 807.8,146.2 809,146.7 810.2,147.2 811.5,147.4 812.8,147.4 814,147.3 815.2,147.3 816.5,147.2 817.8,147.1 819,147 820.2,147 821.5,147.1 822.8,147.1 824,147.2 825.2,147.4 826.5,147.5 827.8,147.7 828.9,147.9" fill="none" stroke="#f4c158" stroke-width="1.6" stroke-linejoin="round" stroke-linecap="butt"/>
<path d="M506.4,176.6 507.7,176.6 508.9,176.5 510.2,176.5 511.4,176.5 512.7,176.4 513.9,176.4 515.2,176.4 516.4,176.3 517.7,176.3 518.9,176.3 520.2,176.3 521.4,176.2 522.7,176.2 523.9,176.2 525.2,176.1 526.4,176.1 527.7,176.1 528.9,176.1 530.2,176 531.4,176 532.7,176 533.9,176 535.2,175.9 536.4,175.9 537.7,175.9 538.9,175.9 540.2,175.8 541.4,175.8 542.7,175.8 543.9,175.8 545.2,175.8 546.4,175.7 547.7,175.7 548.9,175.7 550.2,175.7 551.4,175.7 552.7,175.7 553.9,175.6 555.2,175.6 556.4,175.6 557.7,175.6 558.9,175.6 560.2,175.6 561.4,175.6 562.7,175.5 563.9,175.5 565.2,175.5 566.4,175.5 567.7,175.5 568.9,175.5 570.2,175.5 571.4,175.5 572.7,175.5 573.9,175.5 575.2,175.5 576.4,175.5 577.7,175.4 578.9,175.4 580.2,175.4 581.4,175.4 582.7,175.4 583.9,175.4 585.2,175.4 586.4,175.4 587.7,175.4 588.9,175.4 590.2,175.4 591.4,175.5 592.7,175.5 593.9,175.5 595.2,175.5 596.4,175.5 597.7,175.5 598.9,175.5 600.2,175.5 601.4,175.5 602.7,175.5 603.9,175.5 605.2,175.5 606.4,175.6 607.7,175.6 608.9,175.6 610.2,175.6 611.4,175.6 612.7,175.6 613.9,175.7 615.2,175.7 616.4,175.7 617.7,175.7 618.9,175.7 620.2,175.8 621.4,175.8 622.7,175.8 623.9,175.8 625.2,175.9 626.4,175.9 627.7,175.9 628.9,175.9 630.2,176 631.4,176 632.7,176 633.9,176 635.2,176.1 636.4,176.1 637.7,176.1 638.9,176.2 640.2,176.2 641.4,176.2 642.7,176.3 643.9,176.3 645.2,176.3 646.4,176.3 647.7,176.4 648.9,176.4 650.2,176.4 651.4,176.5 652.7,176.5 653.9,176.5 655.2,176.6 656.4,176.6 657.7,176.6 658.9,176.7 660.2,176.7 661.4,176.7 662.7,176.8 663.9,176.8 665.2,176.8 666.4,176.9 667.7,176.9 668.9,176.9 670.2,177 671.4,177 672.7,177 673.9,177.1 675.2,177.1 676.4,177.1 677.7,177.2 678.9,177.2 680.2,177.2 681.4,177.3 682.7,177.3 683.9,177.3 685.2,177.4 686.4,177.4 687.7,177.4 688.9,177.5 690.2,177.5 691.4,177.5 692.7,177.6 693.9,177.7 695.2,177.7 696.4,177.8 697.7,177.9 698.9,177.9 700.2,178 701.4,178 702.7,178.1 703.9,178.1 705.2,178.2 706.4,178.2 707.7,177.9 708.9,177.2 710.2,176.1 711.4,174.9 712.7,173.7 713.9,172.1 715.2,169.5 716.4,167.3 717.7,166.7 718.9,167.8 720.2,169.3 721.4,171 722.7,172.3 723.9,173.9 725.2,175.4 726.4,176.5 727.7,176.7 728.9,176 730.2,175.2 731.4,174.4 732.7,173.7 733.9,172.9 735.2,172.2 736.4,171.4 737.7,170.7 738.9,170.6 740.2,171.4 741.4,172.7 742.7,174 743.9,174.8 745.2,175.3 746.4,175.8 747.7,176.2 748.9,176.6 750.2,177 751.4,177.3 752.7,177.6 753.9,177.8 755.2,178.1 756.4,178.3 757.7,178.5 758.9,178.6 760.2,178.8 761.4,178.9 762.7,178.9 763.9,179 765.2,178.9 766.4,178.9 767.7,178.8 768.9,178.6 770.2,178.4 771.4,178.1 772.7,177.8 773.9,177.4 775.2,177 776.4,176.4 777.7,175.8 778.9,175 780.2,174.2 781.4,173.4 782.7,172.5 783.9,171.6 785.2,170.7 786.4,169.8 787.7,169 788.9,168.3 790.2,167.6 791.4,167 792.7,166.3 793.9,165.7 795.2,165.1 796.4,164.5 797.7,163.9 798.9,163.4 800.2,162.8 801.4,162.3 802.7,161.9 803.9,161.4 805.2,161 806.4,160.7 807.7,160.4 808.9,160.1 810.2,159.9 811.4,159.8 812.7,159.7 813.9,159.6 815.2,159.6 816.4,159.6 817.7,159.6 818.9,159.7 820.2,159.8 821.4,160 822.7,160.2 823.9,160.5 825.2,160.9 826.4,161.4 827.7,161.9 828.9,162.6 829,162.7" fill="none" stroke="#fbe0a6" stroke-width="1.6" stroke-linejoin="round" stroke-linecap="butt"/>
<path d="M506.4,194.3 507.7,194.2 508.9,194.2 510.2,194.1 511.4,194.1 512.7,194 513.9,194 515.2,193.9 516.4,193.9 517.7,193.8 518.9,193.8 520.2,193.7 521.4,193.7 522.7,193.6 523.9,193.6 525.2,193.5 526.4,193.5 527.7,193.5 528.9,193.4 530.2,193.4 531.4,193.3 532.7,193.3 533.9,193.2 535.2,193.2 536.4,193.2 537.7,193.1 538.9,193.1 540.2,193.1 541.4,193 542.7,193 543.9,193 545.2,192.9 546.4,192.9 547.7,192.9 548.9,192.8 550.2,192.8 551.4,192.8 552.7,192.7 553.9,192.7 555.2,192.7 556.4,192.7 557.7,192.6 558.9,192.6 560.2,192.6 561.4,192.6 562.7,192.5 563.9,192.5 565.2,192.5 566.4,192.5 567.7,192.5 568.9,192.4 570.2,192.4 571.4,192.4 572.7,192.4 573.9,192.4 575.2,192.4 576.4,192.3 577.7,192.3 578.9,192.3 580.2,192.3 581.4,192.3 582.7,192.3 583.9,192.3 585.2,192.3 586.4,192.2 587.7,192.2 588.9,192.2 590.2,192.2 591.4,192.2 592.7,192.2 593.9,192.2 595.2,192.2 596.4,192.2 597.7,192.2 598.9,192.2 600.2,192.2 601.4,192.2 602.7,192.2 603.9,192.2 605.2,192.2 606.4,192.2 607.7,192.2 608.9,192.2 610.2,192.2 611.4,192.2 612.7,192.2 613.9,192.2 615.2,192.2 616.4,192.2 617.7,192.2 618.9,192.3 620.2,192.3 621.4,192.3 622.7,192.3 623.9,192.4 625.2,192.4 626.4,192.4 627.7,192.4 628.9,192.5 630.2,192.5 631.4,192.5 632.7,192.6 633.9,192.6 635.2,192.6 636.4,192.7 637.7,192.7 638.9,192.8 640.2,192.8 641.4,192.8 642.7,192.9 643.9,192.9 645.2,193 646.4,193 647.7,193 648.9,193.1 650.2,193.1 651.4,193.2 652.7,193.2 653.9,193.3 655.2,193.3 656.4,193.3 657.7,193.4 658.9,193.4 660.2,193.5 661.4,193.5 662.7,193.6 663.9,193.6 665.2,193.6 666.4,193.7 667.7,193.7 668.9,193.8 670.2,193.8 671.4,193.9 672.7,193.9 673.9,193.9 675.2,194 676.4,194 677.7,194 678.9,194.1 680.2,194.1 681.4,194.1 682.7,194.2 683.9,194.2 685.2,194.2 686.4,194.3 687.7,194.3 688.9,194.3 690.2,194.4 691.4,194.4 692.7,194.5 693.9,194.6 695.2,194.6 696.4,194.6 697.7,194.6 698.9,194.6 700.2,194.6 701.4,194.5 702.7,194.4 703.9,194.3 705.2,194.1 706.4,193.8 707.7,193.5 708.9,192.9 710.2,192 711.4,190.9 712.7,189.8 713.9,188.6 715.2,187.2 716.4,185.9 717.7,185.5 718.9,186.1 720.2,187.4 721.4,189 722.7,190.3 723.9,191.5 725.2,192.8 726.4,193.8 727.7,194.3 728.9,194.1 730.2,193.3 731.4,192.3 732.7,191.3 733.9,190.6 735.2,189.9 736.4,189.3 737.7,188.9 738.9,189.1 740.2,189.8 741.4,190.7 742.7,191.6 743.9,192.2 745.2,192.6 746.4,193 747.7,193.4 748.9,193.8 750.2,194.1 751.4,194.3 752.7,194.4 753.9,194.5 755.2,194.5 756.4,194.6 757.7,194.7 758.9,194.7 760.2,194.7 761.4,194.8 762.7,194.7 763.9,194.7 765.2,194.7 766.4,194.6 767.7,194.6 768.9,194.5 770.2,194.3 771.4,194.2 772.7,194 773.9,193.9 775.2,193.6 776.4,193.4 777.7,193.2 778.9,192.9 780.2,192.7 781.4,192.4 782.7,192.2 783.9,191.9 785.2,191.6 786.4,191.4 787.7,191.1 788.9,190.9 790.2,190.7 791.4,190.4 792.7,190.2 793.9,190 795.2,189.7 796.4,189.5 797.7,189.3 798.9,189.1 800.2,188.8 801.4,188.6 802.7,188.4 803.9,188.2 805.2,188 806.4,187.7 807.7,187.6 808.9,187.4 810.2,187.2 811.4,187.1 812.7,186.9 813.9,186.8 815.2,186.7 816.4,186.6 817.7,186.5 818.9,186.4 820.2,186.3 821.4,186.3 822.7,186.3 823.9,186.4 825.2,186.7 826.4,187.1 827.7,187.6 828.9,188.1 829,188.1" fill="none" stroke="#a9d8e6" stroke-width="1.6" stroke-linejoin="round" stroke-linecap="butt"/>
<path d="M506.4,211.7 507.7,211.7 508.9,211.6 510.2,211.6 511.4,211.6 512.7,211.5 513.9,211.5 515.2,211.5 516.4,211.4 517.7,211.4 518.9,211.4 520.2,211.4 521.4,211.3 522.7,211.3 523.9,211.3 525.2,211.2 526.4,211.2 527.7,211.2 528.9,211.2 530.2,211.1 531.4,211.1 532.7,211.1 533.9,211.1 535.2,211 536.4,211 537.7,211 538.9,211 540.2,211 541.4,210.9 542.7,210.9 543.9,210.9 545.2,210.9 546.4,210.9 547.7,210.9 548.9,210.8 550.2,210.8 551.4,210.8 552.7,210.8 553.9,210.8 555.2,210.8 556.4,210.8 557.7,210.8 558.9,210.7 560.2,210.7 561.4,210.7 562.7,210.7 563.9,210.7 565.2,210.7 566.4,210.7 567.7,210.7 568.9,210.7 570.2,210.7 571.4,210.7 572.7,210.7 573.9,210.7 575.2,210.7 576.4,210.7 577.7,210.7 578.9,210.7 580.2,210.7 581.4,210.7 582.7,210.7 583.9,210.7 585.2,210.7 586.4,210.7 587.7,210.7 588.9,210.7 590.2,210.8 591.4,210.8 592.7,210.8 593.9,210.8 595.2,210.8 596.4,210.8 597.7,210.8 598.9,210.8 600.2,210.9 601.4,210.9 602.7,210.9 603.9,210.9 605.2,210.9 606.4,210.9 607.7,211 608.9,211 610.2,211 611.4,211 612.7,211.1 613.9,211.1 615.2,211.1 616.4,211.2 617.7,211.2 618.9,211.3 620.2,211.3 621.4,211.3 622.7,211.4 623.9,211.4 625.2,211.5 626.4,211.5 627.7,211.5 628.9,211.6 630.2,211.6 631.4,211.7 632.7,211.7 633.9,211.8 635.2,211.8 636.4,211.9 637.7,211.9 638.9,212 640.2,212 641.4,212.1 642.7,212.1 643.9,212.2 645.2,212.2 646.4,212.3 647.7,212.3 648.9,212.4 650.2,212.4 651.4,212.5 652.7,212.5 653.9,212.6 655.2,212.6 656.4,212.6 657.7,212.7 658.9,212.7 660.2,212.8 661.4,212.8 662.7,212.8 663.9,212.9 665.2,212.9 666.4,213 667.7,213 668.9,213 670.2,213.1 671.4,213.1 672.7,213.1 673.9,213.2 675.2,213.2 676.4,213.2 677.7,213.2 678.9,213.3 680.2,213.3 681.4,213.3 682.7,213.3 683.9,213.3 685.2,213.3 686.4,213.4 687.7,213.4 688.9,213.4 690.2,213.3 691.4,213.3 692.7,213.3 693.9,213.3 695.2,213.3 696.4,213.3 697.7,213.2 698.9,213.2 700.2,213.2 701.4,213.1 702.7,213.1 703.9,213 705.2,212.9 706.4,212.9 707.7,212.8 708.9,212.4 710.2,211.7 711.4,210.8 712.7,209.8 713.9,208.7 715.2,207.2 716.4,205.9 717.7,205.6 718.9,206.2 720.2,207.2 721.4,208.3 722.7,209.2 723.9,210.3 725.2,211.4 726.4,212.2 727.7,212.3 728.9,211.9 730.2,211.4 731.4,211 732.7,210.5 733.9,210.1 735.2,209.6 736.4,209.2 737.7,208.8 738.9,208.7 740.2,209.1 741.4,209.8 742.7,210.5 743.9,210.9 745.2,211.3 746.4,211.6 747.7,212 748.9,212.3 750.2,212.6 751.4,212.7 752.7,212.8 753.9,212.9 755.2,213 756.4,213 757.7,213.1 758.9,213.1 760.2,213.1 761.4,213.1 762.7,213.1 763.9,213 765.2,213 766.4,212.9 767.7,212.9 768.9,212.8 770.2,212.7 771.4,212.6 772.7,212.5 773.9,212.4 775.2,212.3 776.4,212.2 777.7,212.1 778.9,212 780.2,211.9 781.4,211.7 782.7,211.6 783.9,211.5 785.2,211.4 786.4,211.2 787.7,211.1 788.9,211 790.2,210.8 791.4,210.7 792.7,210.5 793.9,210.4 795.2,210.2 796.4,210 797.7,209.9 798.9,209.7 800.2,209.5 801.4,209.4 802.7,209.2 803.9,209.1 805.2,208.9 806.4,208.8 807.7,208.6 808.9,208.5 810.2,208.4 811.4,208.3 812.7,208.2 813.9,208.1 815.2,208 816.4,207.9 817.7,207.9 818.9,207.8 820.2,207.7 821.4,207.7 822.7,207.7 823.9,207.9 825.2,208.2 826.4,208.6 827.7,209 828.9,209.5 829,209.6" fill="none" stroke="#6db3d6" stroke-width="1.6" stroke-linejoin="round" stroke-linecap="butt"/>
<path d="M506.4,232.3 507.7,232.3 508.9,232.2 510.2,232.2 511.4,232.1 512.7,232.1 513.9,232 515.2,232 516.4,231.9 517.7,231.9 518.9,231.8 520.2,231.8 521.4,231.7 522.7,231.7 523.9,231.6 525.2,231.6 526.4,231.5 527.7,231.5 528.9,231.4 530.2,231.4 531.4,231.3 532.7,231.3 533.9,231.2 535.2,231.2 536.4,231.2 537.7,231.1 538.9,231.1 540.2,231 541.4,231 542.7,231 543.9,230.9 545.2,230.9 546.4,230.9 547.7,230.8 548.9,230.8 550.2,230.8 551.4,230.7 552.7,230.7 553.9,230.7 555.2,230.6 556.4,230.6 557.7,230.6 558.9,230.6 560.2,230.6 561.4,230.5 562.7,230.5 563.9,230.5 565.2,230.5 566.4,230.5 567.7,230.5 568.9,230.5 570.2,230.4 571.4,230.4 572.7,230.4 573.9,230.4 575.2,230.4 576.4,230.4 577.7,230.4 578.9,230.4 580.2,230.5 581.4,230.5 582.7,230.5 583.9,230.5 585.2,230.5 586.4,230.5 587.7,230.5 588.9,230.6 590.2,230.6 591.4,230.6 592.7,230.6 593.9,230.7 595.2,230.7 596.4,230.7 597.7,230.8 598.9,230.8 600.2,230.8 601.4,230.9 602.7,230.9 603.9,231 605.2,231 606.4,231.1 607.7,231.1 608.9,231.2 610.2,231.2 611.4,231.3 612.7,231.4 613.9,231.4 615.2,231.5 616.4,231.5 617.7,231.6 618.9,231.6 620.2,231.7 621.4,231.8 622.7,231.8 623.9,231.9 625.2,231.9 626.4,232 627.7,232 628.9,232.1 630.2,232.2 631.4,232.2 632.7,232.3 633.9,232.3 635.2,232.4 636.4,232.5 637.7,232.5 638.9,232.6 640.2,232.6 641.4,232.7 642.7,232.8 643.9,232.8 645.2,232.9 646.4,233 647.7,233 648.9,233.1 650.2,233.2 651.4,233.2 652.7,233.3 653.9,233.3 655.2,233.4 656.4,233.5 657.7,233.5 658.9,233.6 660.2,233.7 661.4,233.7 662.7,233.8 663.9,233.8 665.2,233.9 666.4,234 667.7,234 668.9,234.1 670.2,234.1 671.4,234.1 672.7,234.2 673.9,234.2 675.2,234.3 676.4,234.3 677.7,234.3 678.9,234.3 680.2,234.4 681.4,234.4 682.7,234.4 683.9,234.4 685.2,234.4 686.4,234.4 687.7,234.3 688.9,234.3 690.2,234.3 691.4,234.2 692.7,234.2 693.9,234.1 695.2,234.1 696.4,234 697.7,233.9 698.9,233.8 700.2,233.7 701.4,233.6 702.7,233.5 703.9,233.3 705.2,233.2 706.4,233 707.7,232.9 708.9,232.5 710.2,231.9 711.4,231.2 712.7,230.4 713.9,229.5 715.2,228.3 716.4,227.3 717.7,227 718.9,227.6 720.2,228.5 721.4,229.5 722.7,230.4 723.9,231.3 725.2,232.3 726.4,233 727.7,233.2 728.9,232.8 730.2,232.5 731.4,232.1 732.7,231.7 733.9,231.3 735.2,230.9 736.4,230.6 737.7,230.2 738.9,230.2 740.2,230.6 741.4,231.3 742.7,231.9 743.9,232.4 745.2,232.6 746.4,232.9 747.7,233.2 748.9,233.4 750.2,233.6 751.4,233.7 752.7,233.7 753.9,233.7 755.2,233.7 756.4,233.6 757.7,233.6 758.9,233.6 760.2,233.6 761.4,233.5 762.7,233.5 763.9,233.5 765.2,233.4 766.4,233.4 767.7,233.3 768.9,233.3 770.2,233.2 771.4,233.1 772.7,233.1 773.9,233 775.2,232.9 776.4,232.9 777.7,232.8 778.9,232.7 780.2,232.6 781.4,232.5 782.7,232.4 783.9,232.4 785.2,232.3 786.4,232.2 787.7,232.1 788.9,232 790.2,231.9 791.4,231.9 792.7,231.8 793.9,231.7 795.2,231.6 796.4,231.5 797.7,231.4 798.9,231.3 800.2,231.3 801.4,231.2 802.7,231.1 803.9,231 805.2,230.9 806.4,230.9 807.7,230.8 808.9,230.7 810.2,230.7 811.4,230.6 812.7,230.5 813.9,230.5 815.2,230.4 816.4,230.4 817.7,230.3 818.9,230.3 820.2,230.2 821.4,230.2 822.7,230.2 823.9,230.5 825.2,230.8 826.4,231.2 827.7,231.7 828.9,232.3 829,232.3" fill="none" stroke="#3f86bd" stroke-width="1.6" stroke-linejoin="round" stroke-linecap="butt"/>
<path d="M506.4,251.6 507.7,251.6 508.9,251.5 510.2,251.5 511.4,251.4 512.7,251.4 513.9,251.3 515.2,251.3 516.4,251.2 517.7,251.2 518.9,251.1 520.2,251.1 521.4,251 522.7,251 523.9,250.9 525.2,250.9 526.4,250.9 527.7,250.8 528.9,250.8 530.2,250.7 531.4,250.7 532.7,250.7 533.9,250.6 535.2,250.6 536.4,250.6 537.7,250.5 538.9,250.5 540.2,250.5 541.4,250.4 542.7,250.4 543.9,250.4 545.2,250.4 546.4,250.3 547.7,250.3 548.9,250.3 550.2,250.3 551.4,250.3 552.7,250.2 553.9,250.2 555.2,250.2 556.4,250.2 557.7,250.2 558.9,250.2 560.2,250.2 561.4,250.2 562.7,250.2 563.9,250.2 565.2,250.2 566.4,250.2 567.7,250.2 568.9,250.2 570.2,250.2 571.4,250.2 572.7,250.2 573.9,250.2 575.2,250.2 576.4,250.2 577.7,250.3 578.9,250.3 580.2,250.3 581.4,250.3 582.7,250.3 583.9,250.4 585.2,250.4 586.4,250.4 587.7,250.5 588.9,250.5 590.2,250.5 591.4,250.6 592.7,250.6 593.9,250.7 595.2,250.7 596.4,250.7 597.7,250.8 598.9,250.8 600.2,250.9 601.4,251 602.7,251 603.9,251.1 605.2,251.1 606.4,251.2 607.7,251.3 608.9,251.4 610.2,251.4 611.4,251.5 612.7,251.6 613.9,251.7 615.2,251.8 616.4,251.9 617.7,252 618.9,252.1 620.2,252.2 621.4,252.3 622.7,252.4 623.9,252.6 625.2,252.7 626.4,252.7 627.7,252.8 628.9,252.9 630.2,253 631.4,253.1 632.7,253.2 633.9,253.2 635.2,253.3 636.4,253.4 637.7,253.4 638.9,253.5 640.2,253.5 641.4,253.6 642.7,253.7 643.9,253.7 645.2,253.8 646.4,253.8 647.7,253.9 648.9,253.9 650.2,253.9 651.4,254 652.7,254 653.9,254.1 655.2,254.1 656.4,254.2 657.7,254.2 658.9,254.3 660.2,254.3 661.4,254.3 662.7,254.4 663.9,254.4 665.2,254.5 666.4,254.5 667.7,254.6 668.9,254.6 670.2,254.6 671.4,254.7 672.7,254.7 673.9,254.8 675.2,254.8 676.4,254.8 677.7,254.8 678.9,254.9 680.2,254.9 681.4,254.9 682.7,254.9 683.9,254.9 685.2,254.9 686.4,254.9 687.7,254.9 688.9,254.9 690.2,254.9 691.4,254.8 692.7,254.8 693.9,254.8 695.2,254.7 696.4,254.7 697.7,254.6 698.9,254.5 700.2,254.5 701.4,254.4 702.7,254.3 703.9,254.2 705.2,254 706.4,253.9 707.7,253.8 708.9,253.5 710.2,253.1 711.4,252.6 712.7,252 713.9,251.5 715.2,250.7 716.4,250 717.7,249.8 718.9,250.1 720.2,250.7 721.4,251.5 722.7,252 723.9,252.6 725.2,253.2 726.4,253.6 727.7,253.8 728.9,253.7 730.2,253.4 731.4,253.1 732.7,252.8 733.9,252.5 735.2,252.2 736.4,251.9 737.7,251.6 738.9,251.7 740.2,252 741.4,252.5 742.7,253 743.9,253.3 745.2,253.5 746.4,253.7 747.7,253.9 748.9,254.1 750.2,254.2 751.4,254.3 752.7,254.4 753.9,254.4 755.2,254.4 756.4,254.5 757.7,254.5 758.9,254.5 760.2,254.5 761.4,254.5 762.7,254.5 763.9,254.5 765.2,254.5 766.4,254.4 767.7,254.4 768.9,254.3 770.2,254.3 771.4,254.2 772.7,254.1 773.9,254 775.2,253.9 776.4,253.7 777.7,253.6 778.9,253.5 780.2,253.3 781.4,253.2 782.7,253 783.9,252.9 785.2,252.8 786.4,252.6 787.7,252.5 788.9,252.3 790.2,252.2 791.4,252 792.7,251.9 793.9,251.7 795.2,251.6 796.4,251.5 797.7,251.3 798.9,251.2 800.2,251 801.4,250.9 802.7,250.7 803.9,250.6 805.2,250.4 806.4,250.3 807.7,250.1 808.9,250 810.2,249.8 811.4,249.7 812.7,249.5 813.9,249.4 815.2,249.2 816.4,249 817.7,248.9 818.9,248.7 820.2,248.6 821.4,248.4 822.7,248.5 823.9,248.8 825.2,249.4 826.4,250.3 827.7,251.3 828.9,252.3 829,252.4" fill="none" stroke="#2b5a9f" stroke-width="1.6" stroke-linejoin="round" stroke-linecap="butt"/>
<path d="M506.4,271.2 507.7,271.2 508.9,271.2 510.2,271.2 511.4,271.2 512.7,271.2 513.9,271.2 515.2,271.2 516.4,271.2 517.7,271.3 518.9,271.3 520.2,271.4 521.4,271.2 522.7,271.1 523.9,271 525.2,271.1 526.4,271.2 527.7,271.2 528.9,271.3 530.2,271.4 531.4,271.5 532.7,271.6 533.9,271.6 535.2,271.5 536.4,271.3 537.7,271 538.9,270.9 540.2,270.9 541.4,271 542.7,271 543.9,270.9 545.2,270.9 546.4,270.8 547.7,271 548.9,271.1 550.2,271.1 551.4,271 552.7,270.8 553.9,270.8 555.2,271 556.4,271.1 557.7,271.2 558.9,271.3 560.2,271.3 561.4,271.3 562.7,271.2 563.9,271.1 565.2,271 566.4,271.1 567.7,271.3 568.9,271.3 570.2,271.3 571.4,271.3 572.7,271.3 573.9,271.1 575.2,270.9 576.4,270.8 577.7,271 578.9,271.2 580.2,271.2 581.4,271.1 582.7,271 583.9,271 585.2,271.1 586.4,271.1 587.7,271.1 588.9,271.1 590.2,271 591.4,271 592.7,271.2 593.9,271.3 595.2,271.3 596.4,271.3 597.7,271.2 598.9,271.1 600.2,271 601.4,271 602.7,270.9 603.9,271 605.2,271.1 606.4,271.3 607.7,271.3 608.9,271.4 610.2,271.4 611.4,271.3 612.7,271.1 613.9,271 615.2,271 616.4,271 617.7,271 618.9,271 620.2,271.1 621.4,271.1 622.7,271.3 623.9,271.5 625.2,271.6 626.4,271.6 627.7,271.6 628.9,271.6 630.2,271.5 631.4,271.4 632.7,271.3 633.9,271.4 635.2,271.5 636.4,271.5 637.7,271.5 638.9,271.5 640.2,271.5 641.4,271.3 642.7,271.2 643.9,271.1 645.2,271 646.4,270.9 647.7,270.9 648.9,271 650.2,271.3 651.4,271.3 652.7,271.3 653.9,271.3 655.2,271.2 656.4,271.2 657.7,271.1 658.9,271.1 660.2,271 661.4,271 662.7,271 663.9,271 665.2,271.1 666.4,271.1 667.7,271.2 668.9,271.2 670.2,271.2 671.4,271.1 672.7,271 673.9,271 675.2,271 676.4,271 677.7,271 678.9,271.1 680.2,271.1 681.4,271.2 682.7,271.3 683.9,271.5 685.2,271.5 686.4,271.4 687.7,271.3 688.9,271.3 690.2,271.2 691.4,271.1 692.7,271 693.9,271 695.2,271 696.4,271 697.7,271.1 698.9,271.1 700.2,271.2 701.4,271.1 702.7,271 703.9,271 705.2,270.9 706.4,270.9 707.7,271 708.9,271.1 710.2,271.2 711.4,271.2 712.7,271.1 713.9,270.9 715.2,270.9 716.4,271 717.7,271.1 718.9,271.2 720.2,271.1 721.4,271.1 722.7,271.1 723.9,271.2 725.2,271.3 726.4,271.4 727.7,271.4 728.9,271.4 730.2,271.4 731.4,271.4 732.7,271.4 733.9,271.4 735.2,271.4 736.4,271.4 737.7,271.3 738.9,271.3 740.2,271.2 741.4,271.1 742.7,271.2 743.9,271.3 745.2,271.3 746.4,271.2 747.7,271.1 748.9,271.1 750.2,271.1 751.4,271.2 752.7,271.3 753.9,271.2 755.2,271.1 756.4,271.1 757.7,271.1 758.9,271.1 760.2,271.1 761.4,271 762.7,270.9 763.9,270.8 765.2,270.9 766.4,270.9 767.7,271 768.9,271.2 770.2,271.5 771.4,271.6 772.7,271.4 773.9,271.1 775.2,271 776.4,271.1 777.7,271.3 778.9,271.4 780.2,271.3 781.4,271.3 782.7,271.3 783.9,271.3 785.2,271.4 786.4,271.4 787.7,271.3 788.9,271.2 790.2,271.2 791.4,271.2 792.7,271.3 793.9,271.3 795.2,271.1 796.4,270.9 797.7,270.8 798.9,270.8 800.2,270.8 801.4,270.9 802.7,270.9 803.9,270.9 805.2,270.9 806.4,270.7 807.7,270.3 808.9,270.1 810.2,270.1 811.4,270.1 812.7,270.1 813.9,270.1 815.2,270.1 816.4,270.1 817.7,270.2 818.9,270.4 820.2,270.4 821.4,270.4 822.7,270.3 823.9,270.1 825.2,269.9 826.4,269.8 827.7,269.6 828.9,269.3 829,269.3" fill="none" stroke="#1b1a86" stroke-width="1.6" stroke-linejoin="round" stroke-linecap="butt"/>
<line x1="545.6" y1="74.3" x2="545.6" y2="279.5" stroke="#000" stroke-width="1.7" stroke-dasharray="7.4,5.1"/>
<line x1="687.6" y1="63.6" x2="687.6" y2="284.6" stroke="#000" stroke-width="1.7" stroke-dasharray="7.4,5.1"/>
<line x1="717.6" y1="55.5" x2="717.6" y2="283.3" stroke="#000" stroke-width="1.7" stroke-dasharray="7.4,5.1"/>
<line x1="737.7" y1="67" x2="737.7" y2="283.3" stroke="#000" stroke-width="1.7" stroke-dasharray="7.4,5.1"/>
<line x1="804.1" y1="66" x2="804.1" y2="282" stroke="#000" stroke-width="1.7" stroke-dasharray="7.4,5.1"/>
<line x1="603.7" y1="285.4" x2="603.7" y2="72.6" stroke="#000" stroke-width="1.5"/>
<path d="M603.7,67.6 l-4.4,10.5 l4.4,-2.6 l4.4,2.6 Z" fill="#000" stroke="none" stroke-width="0"/>
<rect x="505.8" y="15.3" width="323.4" height="301.5" fill="none" stroke="#000" stroke-width="1.7"/>
<line x1="531.67" y1="316.8" x2="531.67" y2="323.1" stroke="#000" stroke-width="1.4"/>
<text x="531.67" y="341.1" font-size="19.5" fill="#000" text-anchor="middle" textLength="43.37" lengthAdjust="spacingAndGlyphs">2400</text>
<line x1="557.54" y1="316.8" x2="557.54" y2="320.4" stroke="#000" stroke-width="1.4"/>
<line x1="583.42" y1="316.8" x2="583.42" y2="323.1" stroke="#000" stroke-width="1.4"/>
<text x="583.42" y="341.1" font-size="19.5" fill="#000" text-anchor="middle" textLength="43.37" lengthAdjust="spacingAndGlyphs">2200</text>
<line x1="609.29" y1="316.8" x2="609.29" y2="320.4" stroke="#000" stroke-width="1.4"/>
<line x1="635.16" y1="316.8" x2="635.16" y2="323.1" stroke="#000" stroke-width="1.4"/>
<text x="635.16" y="341.1" font-size="19.5" fill="#000" text-anchor="middle" textLength="43.37" lengthAdjust="spacingAndGlyphs">2000</text>
<line x1="661.03" y1="316.8" x2="661.03" y2="320.4" stroke="#000" stroke-width="1.4"/>
<line x1="686.9" y1="316.8" x2="686.9" y2="323.1" stroke="#000" stroke-width="1.4"/>
<text x="686.9" y="341.1" font-size="19.5" fill="#000" text-anchor="middle" textLength="43.37" lengthAdjust="spacingAndGlyphs">1800</text>
<line x1="712.78" y1="316.8" x2="712.78" y2="320.4" stroke="#000" stroke-width="1.4"/>
<line x1="738.65" y1="316.8" x2="738.65" y2="323.1" stroke="#000" stroke-width="1.4"/>
<text x="738.65" y="341.1" font-size="19.5" fill="#000" text-anchor="middle" textLength="43.37" lengthAdjust="spacingAndGlyphs">1600</text>
<line x1="764.52" y1="316.8" x2="764.52" y2="320.4" stroke="#000" stroke-width="1.4"/>
<line x1="790.39" y1="316.8" x2="790.39" y2="323.1" stroke="#000" stroke-width="1.4"/>
<text x="790.39" y="341.1" font-size="19.5" fill="#000" text-anchor="middle" textLength="43.37" lengthAdjust="spacingAndGlyphs">1400</text>
<line x1="816.26" y1="316.8" x2="816.26" y2="320.4" stroke="#000" stroke-width="1.4"/>
<text x="509.4" y="37.1" font-size="19.5" fill="#000" text-anchor="start">PdBi</text>
<text x="532.2" y="65.9" font-size="15.2" fill="#000" text-anchor="start">CO</text>
<text x="555" y="72.6" font-size="10.6" fill="#000" text-anchor="start">2</text>
<text x="579.6" y="60.2" font-size="19.5" fill="#000" text-anchor="start" textLength="45.53" lengthAdjust="spacingAndGlyphs">1.2 V</text>
<text x="663.2" y="34.3" font-size="15.2" fill="#000" text-anchor="start">*CHOCH</text>
<text x="724.6" y="41.3" font-size="10.3" fill="#000" text-anchor="start">2</text>
<text x="730.3" y="34.3" font-size="15.2" fill="#000" text-anchor="start">OH</text>
<text x="667.2" y="61.7" font-size="15.2" fill="#000" text-anchor="start">*CO</text>
<text x="696.8" y="68.3" font-size="10.5" fill="#000" text-anchor="start">M</text>
<text x="754.3" y="48.5" font-size="15.2" fill="#000" text-anchor="start">COO</text>
<text x="789.3" y="39.2" font-size="12" fill="#000" text-anchor="start">-</text>
<text x="752.3" y="64.4" font-size="15" fill="#000" text-anchor="start">(</text>
<text x="760" y="64.9" font-size="15.1" fill="#000" text-anchor="start">GA</text>
<text x="784.3" y="64.4" font-size="15" fill="#000" text-anchor="start">)</text>
<text x="517.5" y="308.6" font-size="19.5" fill="#000" text-anchor="start" textLength="43.37" lengthAdjust="spacingAndGlyphs">2346</text>
<text x="579.2" y="308.6" font-size="19.5" fill="#000" text-anchor="start" textLength="45.53" lengthAdjust="spacingAndGlyphs">0.3 V</text>
<text x="646.1" y="308.6" font-size="19.5" fill="#000" text-anchor="start" textLength="43.37" lengthAdjust="spacingAndGlyphs">1815</text>
<text x="689.2" y="308.6" font-size="19.5" fill="#000" text-anchor="start" textLength="43.37" lengthAdjust="spacingAndGlyphs">1674</text>
<text x="733.5" y="308.6" font-size="19.5" fill="#000" text-anchor="start" textLength="43.37" lengthAdjust="spacingAndGlyphs">1590</text>
<text x="784.7" y="308.6" font-size="19.5" fill="#000" text-anchor="start" textLength="43.37" lengthAdjust="spacingAndGlyphs">1345</text>
<path d="M717.6,43.3 L721.8,52.5 L717.6,52.32 L713.4,52.5 Z" fill="#000" stroke="none" stroke-width="0"/>
<line x1="717.6" y1="51" x2="717.6" y2="57.5" stroke="#000" stroke-width="1.7"/>
<line x1="738.6" y1="64.8" x2="745.5" y2="58" stroke="#000" stroke-width="2"/>
<path d="M751,52.7 L747.01,62.67 L744.09,59.37 L740.89,56.34 Z" fill="#000" stroke="none" stroke-width="0"/>
<line x1="804" y1="64" x2="797" y2="57.3" stroke="#000" stroke-width="2"/>
<path d="M790.7,51.7 L800.93,54.99 L797.84,58.13 L795.04,61.53 Z" fill="#000" stroke="none" stroke-width="0"/>
<text x="578" y="371.4" font-size="19.3" fill="#000" text-anchor="start" textLength="114.6" lengthAdjust="spacing">Wavenumber</text>
<text x="706.5" y="370.8" font-size="20" fill="#000" text-anchor="start">(</text>
<text x="716" y="371.4" font-size="19.3" fill="#000" text-anchor="start">cm</text>
<text x="742.3" y="358.8" font-size="11.5" fill="#000" text-anchor="start">-1</text>
<text x="757.2" y="370.8" font-size="20" fill="#000" text-anchor="start">)</text>
<text transform="translate(481.1,243.5) rotate(-90)" font-size="19.3" fill="#000" textLength="103" lengthAdjust="spacing">Absorbance</text>
<path d="M466.2,120.9 Q474.95,134.1 483.7,120.9 Q474.95,131.4 466.2,120.9Z" fill="#000" stroke="#000" stroke-width="0.5" stroke-linejoin="round"/>
<text transform="translate(481.1,116.7) rotate(-90)" font-size="19.3" fill="#000">a.u.</text>
<path d="M466.2,84.4 Q474.95,71 483.7,84.4 Q474.95,73.7 466.2,84.4Z" fill="#000" stroke="#000" stroke-width="0.5" stroke-linejoin="round"/>
</g>
<g id="p3">
<rect x="953" y="17.5" width="18.3" height="301.5" fill="#daf1f4" stroke="none" stroke-width="0"/>
<rect x="1091.8" y="17.5" width="18.3" height="301.5" fill="#daf1f4" stroke="none" stroke-width="0"/>
<rect x="1128" y="17.5" width="16.9" height="301.5" fill="#daf1f4" stroke="none" stroke-width="0"/>
<rect x="1148.9" y="17.5" width="17.4" height="301.5" fill="#daf1f4" stroke="none" stroke-width="0"/>
<rect x="1215.9" y="17.5" width="17.4" height="301.5" fill="#daf1f4" stroke="none" stroke-width="0"/>
<path d="M924.4,97.4 925.6,97.4 926.9,97.4 928.1,97.4 929.4,97.4 930.6,97.5 931.9,97.5 933.1,97.5 934.4,97.5 935.6,97.5 936.9,97.6 938.1,97.6 939.4,97.6 940.6,97.6 941.9,97.6 943.1,97.7 944.4,97.7 945.6,97.7 946.9,97.7 948.1,97.7 949.4,97.7 950.6,97.7 951.9,97.7 953.1,97.7 954.4,97.8 955.6,97.8 956.9,97.8 958.1,97.8 959.4,97.8 960.6,97.8 961.9,97.8 963.1,97.8 964.4,97.8 965.6,97.8 966.9,97.7 968.1,97.7 969.4,97.7 970.6,97.7 971.9,97.7 973.1,97.7 974.4,97.7 975.6,97.6 976.9,97.6 978.1,97.6 979.4,97.6 980.6,97.5 981.9,97.5 983.1,97.5 984.4,97.4 985.6,97.4 986.9,97.3 988.1,97.3 989.4,97.3 990.6,97.2 991.9,97.2 993.1,97.1 994.4,97 995.6,97 996.9,96.9 998.1,96.9 999.4,96.8 1000.6,96.7 1001.9,96.6 1003.1,96.6 1004.4,96.5 1005.6,96.4 1006.9,96.3 1008.1,96.2 1009.4,96.2 1010.6,96.1 1011.9,96 1013.1,95.9 1014.4,95.8 1015.6,95.7 1016.9,95.7 1018.1,95.6 1019.4,95.5 1020.6,95.4 1021.9,95.3 1023.1,95.2 1024.4,95.2 1025.6,95.1 1026.9,95 1028.1,94.9 1029.4,94.8 1030.6,94.7 1031.9,94.6 1033.1,94.6 1034.4,94.5 1035.6,94.4 1036.9,94.3 1038.1,94.2 1039.4,94.2 1040.6,94.1 1041.9,94 1043.1,93.9 1044.4,93.8 1045.6,93.8 1046.9,93.7 1048.1,93.6 1049.4,93.5 1050.6,93.4 1051.9,93.4 1053.1,93.3 1054.4,93.2 1055.6,93.1 1056.9,93 1058.1,93 1059.4,92.9 1060.6,92.8 1061.9,92.7 1063.1,92.7 1064.4,92.6 1065.6,92.5 1066.9,92.5 1068.1,92.4 1069.4,92.5 1070.6,92.5 1071.9,92.6 1073.1,92.6 1074.4,92.7 1075.6,92.8 1076.9,92.9 1078.1,93 1079.4,93 1080.6,93.1 1081.9,93.2 1083.1,93.2 1084.4,93.2 1085.6,93.2 1086.9,93.1 1088.1,93.1 1089.4,92.9 1090.6,92.7 1091.9,92.5 1093.1,92.3 1094.4,92 1095.6,91.8 1096.9,91.5 1098.1,91.3 1099.4,91 1100.6,90.8 1101.9,90.5 1103.1,90.3 1104.4,90.5 1105.6,90.9 1106.9,91.3 1108.1,91.7 1109.4,92.2 1110.6,92.5 1111.9,92.8 1113.1,93 1114.4,93.1 1115.6,93.2 1116.9,93.3 1118.1,93.3 1119.4,93.3 1120.6,93.2 1121.9,93.1 1123.1,93 1124.4,92.9 1125.6,92.7 1126.9,92.5 1128.1,92.3 1129.4,92 1130.6,91.7 1131.9,91.4 1133.1,91 1134.4,90.6 1135.6,90 1136.9,89.5 1138.1,89.1 1139.4,88.9 1140.6,88.9 1141.9,89.1 1143.1,89.2 1144.4,89.2 1145.6,89 1146.9,88.6 1148.1,88.2 1149.4,87.8 1150.6,87.4 1151.9,87 1153.1,86.5 1154.4,86 1155.6,85.5 1156.9,85.1 1158.1,85.1 1159.4,85.8 1160.6,87 1161.9,88.2 1163.1,89.2 1164.4,90.2 1165.6,91.1 1166.9,92 1168.1,92.5 1169.4,92.8 1170.6,93 1171.9,93.2 1173.1,93.2 1174.4,93.3 1175.6,93.3 1176.9,93.3 1178.1,93.2 1179.4,93.2 1180.6,93.1 1181.9,93.1 1183.1,93.1 1184.4,93.1 1185.6,93 1186.9,93 1188.1,93 1189.4,93 1190.6,93 1191.9,93 1193.1,93 1194.4,93 1195.6,93 1196.9,93 1198.1,93 1199.4,93 1200.6,92.9 1201.9,92.9 1203.1,92.9 1204.4,92.8 1205.6,92.8 1206.9,92.7 1208.1,92.6 1209.4,92.6 1210.6,92.5 1211.9,92.3 1213.1,92.2 1214.4,92 1215.6,91.9 1216.9,91.7 1218.1,91.5 1219.4,91.3 1220.6,91.2 1221.9,90.9 1223.1,90.5 1224.4,90.4 1225.6,90.5 1226.9,90.7 1228.1,90.9 1229.4,91.1 1230.6,91.3 1231.9,91.5 1233.1,91.7 1234.4,91.9 1235.6,92.1 1236.9,92.3 1238.1,92 1239.4,91.2 1240.6,90.1 1241.9,89 1243.1,87.8 1244.4,86.8 1245.6,85.7 1246.9,84.6 1247.8,83.7" fill="none" stroke="#cd4a45" stroke-width="1.6" stroke-linejoin="round" stroke-linecap="butt"/>
<path d="M924.4,114.5 925.6,114.5 926.9,114.5 928.1,114.5 929.4,114.5 930.6,114.5 931.9,114.4 933.1,114.4 934.4,114.4 935.6,114.4 936.9,114.4 938.1,114.4 939.4,114.4 940.6,114.4 941.9,114.4 943.1,114.4 944.4,114.4 945.6,114.3 946.9,114.3 948.1,114.3 949.4,114.3 950.6,114.3 951.9,114.3 953.1,114.3 954.4,114.3 955.6,114.3 956.9,114.3 958.1,114.3 959.4,114.3 960.6,114.3 961.9,114.3 963.1,114.2 964.4,114.2 965.6,114.2 966.9,114.2 968.1,114.2 969.4,114.2 970.6,114.2 971.9,114.2 973.1,114.2 974.4,114.2 975.6,114.2 976.9,114.2 978.1,114.2 979.4,114.2 980.6,114.2 981.9,114.2 983.1,114.2 984.4,114.1 985.6,114.1 986.9,114.1 988.1,114.1 989.4,114.1 990.6,114.1 991.9,114.1 993.1,114.1 994.4,114.1 995.6,114.1 996.9,114.1 998.1,114.1 999.4,114.1 1000.6,114.1 1001.9,114.1 1003.1,114.1 1004.4,114.1 1005.6,114 1006.9,114 1008.1,114 1009.4,114 1010.6,114 1011.9,114 1013.1,114 1014.4,114 1015.6,114 1016.9,114 1018.1,114 1019.4,114 1020.6,114 1021.9,114 1023.1,114 1024.4,114 1025.6,114 1026.9,114 1028.1,114 1029.4,114.1 1030.6,114.1 1031.9,114.2 1033.1,114.2 1034.4,114.3 1035.6,114.3 1036.9,114.4 1038.1,114.5 1039.4,114.6 1040.6,114.6 1041.9,114.7 1043.1,114.8 1044.4,114.9 1045.6,115 1046.9,115 1048.1,115.1 1049.4,115.2 1050.6,115.3 1051.9,115.4 1053.1,115.4 1054.4,115.5 1055.6,115.6 1056.9,115.7 1058.1,115.7 1059.4,115.8 1060.6,115.8 1061.9,115.9 1063.1,115.9 1064.4,115.9 1065.6,116 1066.9,116 1068.1,116 1069.4,116 1070.6,116 1071.9,116 1073.1,115.9 1074.4,115.9 1075.6,115.9 1076.9,115.8 1078.1,115.7 1079.4,115.6 1080.6,115.5 1081.9,115.4 1083.1,115.3 1084.4,115.2 1085.6,115 1086.9,114.8 1088.1,114.6 1089.4,114.4 1090.6,114.2 1091.9,114 1093.1,113.7 1094.4,113.5 1095.6,113.2 1096.9,113 1098.1,112.7 1099.4,112.4 1100.6,112.1 1101.9,111.9 1103.1,111.9 1104.4,112.1 1105.6,112.4 1106.9,112.7 1108.1,112.9 1109.4,113.2 1110.6,113.4 1111.9,113.7 1113.1,113.8 1114.4,114 1115.6,114.1 1116.9,114.1 1118.1,114.2 1119.4,114.2 1120.6,114.2 1121.9,114.1 1123.1,114 1124.4,113.9 1125.6,113.8 1126.9,113.7 1128.1,113.5 1129.4,113.3 1130.6,113 1131.9,112.7 1133.1,112.4 1134.4,112.1 1135.6,111.6 1136.9,111.1 1138.1,110.8 1139.4,110.6 1140.6,110.8 1141.9,111.1 1143.1,111.3 1144.4,111.4 1145.6,111.2 1146.9,110.9 1148.1,110.6 1149.4,110.2 1150.6,109.8 1151.9,109.5 1153.1,109.1 1154.4,108.7 1155.6,108.3 1156.9,107.9 1158.1,107.8 1159.4,108.4 1160.6,109.5 1161.9,110.6 1163.1,111.4 1164.4,112.2 1165.6,112.9 1166.9,113.5 1168.1,113.9 1169.4,114.2 1170.6,114.5 1171.9,114.7 1173.1,114.9 1174.4,115.1 1175.6,115.2 1176.9,115.4 1178.1,115.5 1179.4,115.6 1180.6,115.6 1181.9,115.7 1183.1,115.7 1184.4,115.8 1185.6,115.8 1186.9,115.8 1188.1,115.8 1189.4,115.7 1190.6,115.7 1191.9,115.6 1193.1,115.6 1194.4,115.5 1195.6,115.4 1196.9,115.3 1198.1,115.2 1199.4,115.1 1200.6,115 1201.9,114.8 1203.1,114.7 1204.4,114.6 1205.6,114.4 1206.9,114.3 1208.1,114.1 1209.4,114 1210.6,113.9 1211.9,113.7 1213.1,113.6 1214.4,113.4 1215.6,113.3 1216.9,113.1 1218.1,112.9 1219.4,112.8 1220.6,112.6 1221.9,112.3 1223.1,112 1224.4,111.8 1225.6,111.9 1226.9,112 1228.1,112.1 1229.4,112.3 1230.6,112.4 1231.9,112.6 1233.1,112.8 1234.4,112.9 1235.6,113.1 1236.9,113.2 1238.1,113.2 1239.4,112.9 1240.6,112.5 1241.9,111.9 1243.1,111.2 1244.4,110.3 1245.6,109.5 1246.9,108.5 1247.8,107.8" fill="none" stroke="#de7a3c" stroke-width="1.6" stroke-linejoin="round" stroke-linecap="butt"/>
<path d="M924.4,132.5 925.6,132.5 926.9,132.6 928.1,132.6 929.4,132.7 930.6,132.8 931.9,132.8 933.1,132.9 934.4,132.9 935.6,133 936.9,133 938.1,133.1 939.4,133.2 940.6,133.2 941.9,133.3 943.1,133.3 944.4,133.4 945.6,133.4 946.9,133.5 948.1,133.5 949.4,133.6 950.6,133.6 951.9,133.7 953.1,133.7 954.4,133.8 955.6,133.8 956.9,133.9 958.1,133.9 959.4,134 960.6,134 961.9,134.1 963.1,134.1 964.4,134.2 965.6,134.2 966.9,134.2 968.1,134.3 969.4,134.3 970.6,134.4 971.9,134.4 973.1,134.4 974.4,134.5 975.6,134.5 976.9,134.6 978.1,134.6 979.4,134.6 980.6,134.6 981.9,134.7 983.1,134.7 984.4,134.7 985.6,134.8 986.9,134.8 988.1,134.8 989.4,134.8 990.6,134.9 991.9,134.9 993.1,134.9 994.4,134.9 995.6,134.9 996.9,135 998.1,135 999.4,135 1000.6,135 1001.9,135 1003.1,135 1004.4,135 1005.6,135 1006.9,135 1008.1,135.1 1009.4,135.1 1010.6,135.1 1011.9,135.1 1013.1,135.1 1014.4,135.1 1015.6,135 1016.9,135 1018.1,135 1019.4,135 1020.6,135 1021.9,135 1023.1,135 1024.4,135 1025.6,135 1026.9,134.9 1028.1,134.9 1029.4,134.9 1030.6,134.9 1031.9,134.8 1033.1,134.8 1034.4,134.8 1035.6,134.7 1036.9,134.7 1038.1,134.7 1039.4,134.6 1040.6,134.6 1041.9,134.6 1043.1,134.5 1044.4,134.5 1045.6,134.4 1046.9,134.4 1048.1,134.3 1049.4,134.3 1050.6,134.2 1051.9,134.2 1053.1,134.1 1054.4,134 1055.6,134 1056.9,133.9 1058.1,133.8 1059.4,133.8 1060.6,133.7 1061.9,133.6 1063.1,133.5 1064.4,133.5 1065.6,133.4 1066.9,133.3 1068.1,133.2 1069.4,133.1 1070.6,133 1071.9,132.9 1073.1,132.8 1074.4,132.7 1075.6,132.6 1076.9,132.5 1078.1,132.4 1079.4,132.3 1080.6,132.2 1081.9,132.1 1083.1,132 1084.4,131.9 1085.6,131.8 1086.9,131.6 1088.1,131.5 1089.4,131.4 1090.6,131.2 1091.9,131.1 1093.1,131 1094.4,130.8 1095.6,130.7 1096.9,130.5 1098.1,130.4 1099.4,130.2 1100.6,129.9 1101.9,129.7 1103.1,129.8 1104.4,130 1105.6,130.2 1106.9,130.3 1108.1,130.5 1109.4,130.7 1110.6,130.8 1111.9,131 1113.1,131.1 1114.4,131.2 1115.6,131.2 1116.9,131.2 1118.1,131.2 1119.4,131.2 1120.6,131.2 1121.9,131.1 1123.1,131 1124.4,130.9 1125.6,130.9 1126.9,130.8 1128.1,130.7 1129.4,130.6 1130.6,130.5 1131.9,130.3 1133.1,130 1134.4,129.8 1135.6,129.6 1136.9,129.4 1138.1,129.2 1139.4,129.2 1140.6,129.4 1141.9,129.6 1143.1,129.8 1144.4,129.9 1145.6,129.7 1146.9,129.5 1148.1,129.2 1149.4,128.9 1150.6,128.6 1151.9,128.2 1153.1,127.8 1154.4,127.3 1155.6,126.8 1156.9,126.6 1158.1,126.7 1159.4,127.1 1160.6,127.7 1161.9,128.3 1163.1,128.8 1164.4,129.3 1165.6,129.8 1166.9,130.2 1168.1,130.6 1169.4,130.8 1170.6,131.1 1171.9,131.3 1173.1,131.5 1174.4,131.6 1175.6,131.8 1176.9,131.9 1178.1,132 1179.4,132 1180.6,132.1 1181.9,132.1 1183.1,132.2 1184.4,132.2 1185.6,132.1 1186.9,132.1 1188.1,132.1 1189.4,132 1190.6,132 1191.9,131.9 1193.1,131.8 1194.4,131.7 1195.6,131.7 1196.9,131.6 1198.1,131.5 1199.4,131.4 1200.6,131.3 1201.9,131.2 1203.1,131.1 1204.4,131 1205.6,130.9 1206.9,130.8 1208.1,130.7 1209.4,130.6 1210.6,130.5 1211.9,130.4 1213.1,130.3 1214.4,130.2 1215.6,130.1 1216.9,130 1218.1,129.8 1219.4,129.7 1220.6,129.6 1221.9,129.5 1223.1,129.4 1224.4,129.3 1225.6,129.2 1226.9,129.2 1228.1,129.3 1229.4,129.4 1230.6,129.6 1231.9,129.8 1233.1,129.9 1234.4,130 1235.6,130.1 1236.9,130 1238.1,129.9 1239.4,129.7 1240.6,129.4 1241.9,129 1243.1,128.6 1244.4,128.1 1245.6,127.6 1246.9,127 1247.8,126.6" fill="none" stroke="#ec9a48" stroke-width="1.6" stroke-linejoin="round" stroke-linecap="butt"/>
<path d="M924.4,154.7 925.6,154.7 926.9,154.8 928.1,154.8 929.4,154.8 930.6,154.9 931.9,154.9 933.1,154.9 934.4,155 935.6,155 936.9,155 938.1,155.1 939.4,155.1 940.6,155.1 941.9,155.1 943.1,155.1 944.4,155.2 945.6,155.2 946.9,155.2 948.1,155.2 949.4,155.2 950.6,155.2 951.9,155.2 953.1,155.2 954.4,155.2 955.6,155.2 956.9,155.2 958.1,155.2 959.4,155.2 960.6,155.2 961.9,155.2 963.1,155.2 964.4,155.2 965.6,155.2 966.9,155.2 968.1,155.2 969.4,155.1 970.6,155.1 971.9,155.1 973.1,155.1 974.4,155 975.6,155 976.9,155 978.1,154.9 979.4,154.9 980.6,154.8 981.9,154.8 983.1,154.8 984.4,154.7 985.6,154.7 986.9,154.6 988.1,154.5 989.4,154.5 990.6,154.4 991.9,154.4 993.1,154.3 994.4,154.2 995.6,154.1 996.9,154.1 998.1,154 999.4,153.9 1000.6,153.8 1001.9,153.7 1003.1,153.6 1004.4,153.5 1005.6,153.4 1006.9,153.2 1008.1,153.1 1009.4,153 1010.6,152.9 1011.9,152.7 1013.1,152.6 1014.4,152.5 1015.6,152.4 1016.9,152.2 1018.1,152.1 1019.4,152 1020.6,151.8 1021.9,151.7 1023.1,151.6 1024.4,151.5 1025.6,151.4 1026.9,151.3 1028.1,151.2 1029.4,151.1 1030.6,151 1031.9,150.9 1033.1,150.8 1034.4,150.7 1035.6,150.7 1036.9,150.6 1038.1,150.5 1039.4,150.5 1040.6,150.4 1041.9,150.4 1043.1,150.3 1044.4,150.2 1045.6,150.2 1046.9,150.1 1048.1,150.1 1049.4,150 1050.6,150 1051.9,149.9 1053.1,149.8 1054.4,149.8 1055.6,149.7 1056.9,149.7 1058.1,149.6 1059.4,149.6 1060.6,149.5 1061.9,149.5 1063.1,149.4 1064.4,149.4 1065.6,149.3 1066.9,149.3 1068.1,149.2 1069.4,149.2 1070.6,149.1 1071.9,149.1 1073.1,149 1074.4,149 1075.6,148.9 1076.9,148.9 1078.1,148.8 1079.4,148.8 1080.6,148.8 1081.9,148.7 1083.1,148.7 1084.4,148.6 1085.6,148.6 1086.9,148.5 1088.1,148.5 1089.4,148.4 1090.6,148.4 1091.9,148.4 1093.1,148.3 1094.4,148.3 1095.6,148.2 1096.9,148.2 1098.1,148.1 1099.4,148.1 1100.6,148.1 1101.9,148 1103.1,148 1104.4,147.9 1105.6,147.9 1106.9,147.9 1108.1,147.9 1109.4,147.9 1110.6,147.9 1111.9,147.9 1113.1,147.9 1114.4,147.9 1115.6,147.9 1116.9,147.9 1118.1,147.9 1119.4,147.9 1120.6,147.9 1121.9,147.9 1123.1,147.9 1124.4,147.9 1125.6,147.8 1126.9,147.8 1128.1,147.8 1129.4,147.7 1130.6,147.6 1131.9,147.5 1133.1,147.3 1134.4,147.2 1135.6,147 1136.9,146.8 1138.1,146.7 1139.4,146.6 1140.6,146.5 1141.9,146.4 1143.1,146.4 1144.4,146.3 1145.6,146.3 1146.9,146.2 1148.1,146.1 1149.4,145.9 1150.6,145.7 1151.9,145.3 1153.1,144.9 1154.4,144.6 1155.6,144.4 1156.9,144.4 1158.1,144.7 1159.4,145.1 1160.6,145.5 1161.9,146 1163.1,146.5 1164.4,146.9 1165.6,147.3 1166.9,147.7 1168.1,148 1169.4,148.2 1170.6,148.5 1171.9,148.7 1173.1,148.9 1174.4,149.1 1175.6,149.2 1176.9,149.3 1178.1,149.5 1179.4,149.6 1180.6,149.6 1181.9,149.7 1183.1,149.8 1184.4,149.8 1185.6,149.8 1186.9,149.8 1188.1,149.8 1189.4,149.8 1190.6,149.8 1191.9,149.7 1193.1,149.7 1194.4,149.6 1195.6,149.6 1196.9,149.5 1198.1,149.5 1199.4,149.4 1200.6,149.3 1201.9,149.2 1203.1,149.2 1204.4,149.1 1205.6,149 1206.9,149 1208.1,148.9 1209.4,148.8 1210.6,148.7 1211.9,148.6 1213.1,148.4 1214.4,148.2 1215.6,148 1216.9,147.8 1218.1,147.6 1219.4,147.4 1220.6,147.2 1221.9,147.1 1223.1,147.1 1224.4,147.1 1225.6,147.3 1226.9,147.4 1228.1,147.5 1229.4,147.7 1230.6,147.8 1231.9,148 1233.1,148.1 1234.4,148.3 1235.6,148.4 1236.9,148.6 1238.1,148.7 1239.4,148.9 1240.6,149 1241.9,149.2 1243.1,149.3 1244.4,149.5 1245.6,149.6 1246.9,149.8 1247.8,149.9" fill="none" stroke="#f4c158" stroke-width="1.6" stroke-linejoin="round" stroke-linecap="butt"/>
<path d="M924.4,170.7 925.6,170.7 926.9,170.8 928.1,170.8 929.4,170.8 930.6,170.9 931.9,170.9 933.1,170.9 934.4,170.9 935.6,171 936.9,171 938.1,171 939.4,171 940.6,171.1 941.9,171.1 943.1,171.1 944.4,171.1 945.6,171.1 946.9,171.1 948.1,171.2 949.4,171.2 950.6,171.2 951.9,171.2 953.1,171.2 954.4,171.2 955.6,171.2 956.9,171.2 958.1,171.3 959.4,171.3 960.6,171.3 961.9,171.3 963.1,171.3 964.4,171.3 965.6,171.3 966.9,171.3 968.1,171.3 969.4,171.3 970.6,171.3 971.9,171.3 973.1,171.3 974.4,171.3 975.6,171.3 976.9,171.3 978.1,171.3 979.4,171.3 980.6,171.3 981.9,171.3 983.1,171.3 984.4,171.3 985.6,171.3 986.9,171.3 988.1,171.3 989.4,171.3 990.6,171.3 991.9,171.2 993.1,171.2 994.4,171.2 995.6,171.2 996.9,171.2 998.1,171.2 999.4,171.2 1000.6,171.2 1001.9,171.2 1003.1,171.1 1004.4,171.1 1005.6,171.1 1006.9,171.1 1008.1,171.1 1009.4,171.1 1010.6,171.1 1011.9,171 1013.1,171 1014.4,171 1015.6,171 1016.9,171 1018.1,171 1019.4,170.9 1020.6,170.9 1021.9,170.9 1023.1,170.9 1024.4,170.9 1025.6,170.8 1026.9,170.8 1028.1,170.8 1029.4,170.8 1030.6,170.7 1031.9,170.7 1033.1,170.7 1034.4,170.7 1035.6,170.7 1036.9,170.6 1038.1,170.6 1039.4,170.6 1040.6,170.6 1041.9,170.5 1043.1,170.5 1044.4,170.5 1045.6,170.5 1046.9,170.4 1048.1,170.4 1049.4,170.4 1050.6,170.3 1051.9,170.3 1053.1,170.3 1054.4,170.3 1055.6,170.2 1056.9,170.2 1058.1,170.2 1059.4,170.2 1060.6,170.1 1061.9,170.1 1063.1,170.1 1064.4,170 1065.6,170 1066.9,170 1068.1,169.9 1069.4,169.9 1070.6,169.9 1071.9,169.9 1073.1,169.8 1074.4,169.8 1075.6,169.8 1076.9,169.7 1078.1,169.7 1079.4,169.7 1080.6,169.7 1081.9,169.6 1083.1,169.6 1084.4,169.6 1085.6,169.5 1086.9,169.5 1088.1,169.5 1089.4,169.4 1090.6,169.4 1091.9,169.4 1093.1,169.3 1094.4,169.2 1095.6,169.1 1096.9,169 1098.1,168.8 1099.4,168.7 1100.6,168.6 1101.9,168.6 1103.1,168.6 1104.4,168.7 1105.6,168.9 1106.9,169.1 1108.1,169.3 1109.4,169.5 1110.6,169.6 1111.9,169.8 1113.1,169.9 1114.4,170 1115.6,170.1 1116.9,170.2 1118.1,170.3 1119.4,170.4 1120.6,170.5 1121.9,170.6 1123.1,170.7 1124.4,170.7 1125.6,170.7 1126.9,170.8 1128.1,170.7 1129.4,170.7 1130.6,170.6 1131.9,170.5 1133.1,170.2 1134.4,170 1135.6,169.8 1136.9,169.5 1138.1,169.4 1139.4,169.3 1140.6,169.2 1141.9,169.1 1143.1,169.1 1144.4,169 1145.6,169 1146.9,168.9 1148.1,168.8 1149.4,168.6 1150.6,168.2 1151.9,167.7 1153.1,167.3 1154.4,166.8 1155.6,166.6 1156.9,166.6 1158.1,166.9 1159.4,167.4 1160.6,167.9 1161.9,168.5 1163.1,168.9 1164.4,169.4 1165.6,169.9 1166.9,170.4 1168.1,170.7 1169.4,170.9 1170.6,171.2 1171.9,171.4 1173.1,171.5 1174.4,171.7 1175.6,171.8 1176.9,171.9 1178.1,172 1179.4,172 1180.6,172.1 1181.9,172.1 1183.1,172.1 1184.4,172.1 1185.6,172.1 1186.9,172.1 1188.1,172 1189.4,172 1190.6,171.9 1191.9,171.9 1193.1,171.8 1194.4,171.7 1195.6,171.6 1196.9,171.5 1198.1,171.5 1199.4,171.4 1200.6,171.3 1201.9,171.2 1203.1,171.1 1204.4,171 1205.6,170.9 1206.9,170.9 1208.1,170.8 1209.4,170.7 1210.6,170.7 1211.9,170.6 1213.1,170.5 1214.4,170.4 1215.6,170.3 1216.9,170.2 1218.1,170.1 1219.4,170 1220.6,169.9 1221.9,169.8 1223.1,169.7 1224.4,169.7 1225.6,169.6 1226.9,169.7 1228.1,169.9 1229.4,170.1 1230.6,170.4 1231.9,170.6 1233.1,170.9 1234.4,171.1 1235.6,171.2 1236.9,171.3 1238.1,171.2 1239.4,171.2 1240.6,171 1241.9,170.8 1243.1,170.6 1244.4,170.3 1245.6,170 1246.9,169.7 1247.8,169.4" fill="none" stroke="#fbe0a6" stroke-width="1.6" stroke-linejoin="round" stroke-linecap="butt"/>
<path d="M924.4,193.5 925.6,193.4 926.9,193.4 928.1,193.4 929.4,193.3 930.6,193.3 931.9,193.2 933.1,193.2 934.4,193.2 935.6,193.1 936.9,193.1 938.1,193.1 939.4,193 940.6,193 941.9,193 943.1,192.9 944.4,192.9 945.6,192.9 946.9,192.9 948.1,192.8 949.4,192.8 950.6,192.8 951.9,192.8 953.1,192.8 954.4,192.8 955.6,192.8 956.9,192.7 958.1,192.7 959.4,192.7 960.6,192.7 961.9,192.7 963.1,192.7 964.4,192.7 965.6,192.7 966.9,192.7 968.1,192.7 969.4,192.7 970.6,192.7 971.9,192.7 973.1,192.7 974.4,192.7 975.6,192.7 976.9,192.8 978.1,192.8 979.4,192.8 980.6,192.8 981.9,192.9 983.1,192.9 984.4,192.9 985.6,193 986.9,193 988.1,193.1 989.4,193.1 990.6,193.1 991.9,193.2 993.1,193.2 994.4,193.3 995.6,193.3 996.9,193.4 998.1,193.4 999.4,193.5 1000.6,193.5 1001.9,193.6 1003.1,193.6 1004.4,193.6 1005.6,193.7 1006.9,193.7 1008.1,193.8 1009.4,193.8 1010.6,193.9 1011.9,193.9 1013.1,194 1014.4,194 1015.6,194 1016.9,194.1 1018.1,194.1 1019.4,194.1 1020.6,194.2 1021.9,194.2 1023.1,194.2 1024.4,194.2 1025.6,194.3 1026.9,194.3 1028.1,194.3 1029.4,194.3 1030.6,194.3 1031.9,194.3 1033.1,194.3 1034.4,194.3 1035.6,194.3 1036.9,194.3 1038.1,194.3 1039.4,194.3 1040.6,194.2 1041.9,194.2 1043.1,194.2 1044.4,194.2 1045.6,194.1 1046.9,194.1 1048.1,194.1 1049.4,194.1 1050.6,194 1051.9,194 1053.1,193.9 1054.4,193.9 1055.6,193.9 1056.9,193.8 1058.1,193.8 1059.4,193.7 1060.6,193.7 1061.9,193.7 1063.1,193.6 1064.4,193.6 1065.6,193.5 1066.9,193.5 1068.1,193.4 1069.4,193.4 1070.6,193.3 1071.9,193.3 1073.1,193.2 1074.4,193.2 1075.6,193.1 1076.9,193.1 1078.1,193 1079.4,193 1080.6,192.9 1081.9,192.9 1083.1,192.8 1084.4,192.8 1085.6,192.7 1086.9,192.7 1088.1,192.6 1089.4,192.6 1090.6,192.5 1091.9,192.5 1093.1,192.4 1094.4,192.4 1095.6,192.4 1096.9,192.3 1098.1,192.3 1099.4,192.2 1100.6,192.2 1101.9,192.2 1103.1,192.1 1104.4,192.1 1105.6,192.1 1106.9,192.1 1108.1,192.1 1109.4,192.1 1110.6,192.1 1111.9,192.1 1113.1,192.2 1114.4,192.2 1115.6,192.2 1116.9,192.2 1118.1,192.3 1119.4,192.3 1120.6,192.3 1121.9,192.3 1123.1,192.3 1124.4,192.3 1125.6,192.3 1126.9,192.2 1128.1,192.2 1129.4,192.2 1130.6,192 1131.9,191.7 1133.1,191.4 1134.4,191 1135.6,190.6 1136.9,190.3 1138.1,190 1139.4,189.9 1140.6,189.7 1141.9,189.6 1143.1,189.5 1144.4,189.3 1145.6,189.2 1146.9,189.1 1148.1,188.9 1149.4,188.8 1150.6,188.6 1151.9,188.4 1153.1,188.2 1154.4,188 1155.6,187.8 1156.9,187.7 1158.1,187.6 1159.4,187.6 1160.6,187.8 1161.9,188.1 1163.1,188.5 1164.4,188.8 1165.6,189.1 1166.9,189.4 1168.1,189.5 1169.4,189.5 1170.6,189.5 1171.9,189.5 1173.1,189.5 1174.4,189.5 1175.6,189.5 1176.9,189.4 1178.1,189.4 1179.4,189.4 1180.6,189.4 1181.9,189.3 1183.1,189.3 1184.4,189.3 1185.6,189.2 1186.9,189.2 1188.1,189.2 1189.4,189.1 1190.6,189.1 1191.9,189.1 1193.1,189 1194.4,189 1195.6,189 1196.9,189 1198.1,188.9 1199.4,188.9 1200.6,188.9 1201.9,188.9 1203.1,188.9 1204.4,188.9 1205.6,188.9 1206.9,188.9 1208.1,188.9 1209.4,188.9 1210.6,189 1211.9,189 1213.1,189 1214.4,189 1215.6,189.1 1216.9,189.1 1218.1,189.1 1219.4,189.1 1220.6,189.2 1221.9,189.2 1223.1,189.2 1224.4,189.2 1225.6,189.3 1226.9,189.3 1228.1,189.3 1229.4,189.4 1230.6,189.4 1231.9,189.4 1233.1,189.5 1234.4,189.5 1235.6,189.5 1236.9,189.6 1238.1,189.6 1239.4,189.7 1240.6,189.7 1241.9,189.8 1243.1,189.8 1244.4,189.9 1245.6,189.9 1246.9,190 1247.8,190" fill="none" stroke="#a9d8e6" stroke-width="1.6" stroke-linejoin="round" stroke-linecap="butt"/>
<path d="M924.4,212.8 925.6,212.8 926.9,212.8 928.1,212.8 929.4,212.8 930.6,212.8 931.9,212.9 933.1,212.9 934.4,212.9 935.6,212.9 936.9,212.9 938.1,212.9 939.4,212.9 940.6,212.9 941.9,212.9 943.1,213 944.4,213 945.6,213 946.9,213 948.1,213 949.4,213 950.6,213 951.9,213 953.1,213 954.4,213 955.6,213 956.9,213.1 958.1,213.1 959.4,213.1 960.6,213.1 961.9,213.1 963.1,213.1 964.4,213.1 965.6,213.1 966.9,213.1 968.1,213.1 969.4,213.1 970.6,213.1 971.9,213.1 973.1,213.1 974.4,213.1 975.6,213.1 976.9,213.2 978.1,213.2 979.4,213.2 980.6,213.2 981.9,213.2 983.1,213.2 984.4,213.2 985.6,213.2 986.9,213.2 988.1,213.2 989.4,213.2 990.6,213.2 991.9,213.2 993.1,213.2 994.4,213.2 995.6,213.2 996.9,213.2 998.1,213.2 999.4,213.2 1000.6,213.2 1001.9,213.2 1003.1,213.2 1004.4,213.2 1005.6,213.2 1006.9,213.2 1008.1,213.2 1009.4,213.2 1010.6,213.2 1011.9,213.2 1013.1,213.2 1014.4,213.2 1015.6,213.2 1016.9,213.2 1018.1,213.2 1019.4,213.2 1020.6,213.2 1021.9,213.2 1023.1,213.2 1024.4,213.2 1025.6,213.2 1026.9,213.2 1028.1,213.2 1029.4,213.2 1030.6,213.2 1031.9,213.2 1033.1,213.2 1034.4,213.2 1035.6,213.2 1036.9,213.2 1038.1,213.2 1039.4,213.2 1040.6,213.2 1041.9,213.2 1043.1,213.2 1044.4,213.2 1045.6,213.2 1046.9,213.2 1048.1,213.2 1049.4,213.2 1050.6,213.2 1051.9,213.2 1053.1,213.2 1054.4,213.2 1055.6,213.2 1056.9,213.2 1058.1,213.2 1059.4,213.2 1060.6,213.2 1061.9,213.2 1063.1,213.2 1064.4,213.2 1065.6,213.2 1066.9,213.2 1068.1,213.2 1069.4,213.1 1070.6,213.1 1071.9,213.1 1073.1,213.1 1074.4,213.1 1075.6,213.1 1076.9,213.1 1078.1,213.1 1079.4,213.1 1080.6,213.1 1081.9,213.1 1083.1,213.1 1084.4,213.1 1085.6,213.1 1086.9,213.1 1088.1,213.1 1089.4,213.1 1090.6,213.1 1091.9,213.1 1093.1,213.1 1094.4,213.1 1095.6,213.1 1096.9,213.1 1098.1,213.1 1099.4,213.1 1100.6,213.1 1101.9,213.1 1103.1,213.1 1104.4,213 1105.6,213 1106.9,213 1108.1,213 1109.4,213 1110.6,213 1111.9,213 1113.1,213 1114.4,213 1115.6,212.9 1116.9,212.9 1118.1,212.9 1119.4,212.9 1120.6,212.9 1121.9,212.8 1123.1,212.8 1124.4,212.8 1125.6,212.8 1126.9,212.7 1128.1,212.7 1129.4,212.7 1130.6,212.7 1131.9,212.6 1133.1,212.6 1134.4,212.6 1135.6,212.5 1136.9,212.5 1138.1,212.5 1139.4,212.5 1140.6,212.4 1141.9,212.4 1143.1,212.4 1144.4,212.3 1145.6,212.3 1146.9,212.3 1148.1,212.3 1149.4,212.2 1150.6,212.2 1151.9,212.2 1153.1,212.1 1154.4,212.1 1155.6,212.1 1156.9,212.1 1158.1,212 1159.4,212 1160.6,212 1161.9,212 1163.1,211.9 1164.4,211.9 1165.6,211.9 1166.9,211.9 1168.1,211.9 1169.4,211.8 1170.6,211.8 1171.9,211.8 1173.1,211.8 1174.4,211.8 1175.6,211.8 1176.9,211.7 1178.1,211.7 1179.4,211.7 1180.6,211.7 1181.9,211.7 1183.1,211.7 1184.4,211.7 1185.6,211.7 1186.9,211.8 1188.1,211.8 1189.4,211.8 1190.6,211.9 1191.9,212 1193.1,212 1194.4,212.1 1195.6,212.2 1196.9,212.2 1198.1,212.3 1199.4,212.4 1200.6,212.4 1201.9,212.5 1203.1,212.6 1204.4,212.6 1205.6,212.7 1206.9,212.7 1208.1,212.8 1209.4,212.8 1210.6,212.8 1211.9,212.8 1213.1,212.8 1214.4,212.8 1215.6,212.8 1216.9,212.8 1218.1,212.8 1219.4,212.8 1220.6,212.8 1221.9,212.8 1223.1,212.8 1224.4,212.8 1225.6,212.8 1226.9,212.8 1228.1,212.8 1229.4,212.8 1230.6,212.7 1231.9,212.7 1233.1,212.7 1234.4,212.7 1235.6,212.6 1236.9,212.6 1238.1,212.6 1239.4,212.5 1240.6,212.5 1241.9,212.5 1243.1,212.4 1244.4,212.4 1245.6,212.3 1246.9,212.3 1247.8,212.3" fill="none" stroke="#6db3d6" stroke-width="1.6" stroke-linejoin="round" stroke-linecap="butt"/>
<path d="M924.4,235.8 925.6,235.8 926.9,235.8 928.1,235.8 929.4,235.8 930.6,235.8 931.9,235.8 933.1,235.8 934.4,235.8 935.6,235.8 936.9,235.8 938.1,235.8 939.4,235.8 940.6,235.8 941.9,235.8 943.1,235.8 944.4,235.8 945.6,235.8 946.9,235.8 948.1,235.8 949.4,235.8 950.6,235.8 951.9,235.8 953.1,235.8 954.4,235.8 955.6,235.8 956.9,235.8 958.1,235.8 959.4,235.8 960.6,235.8 961.9,235.8 963.1,235.8 964.4,235.8 965.6,235.8 966.9,235.8 968.1,235.8 969.4,235.8 970.6,235.8 971.9,235.8 973.1,235.8 974.4,235.8 975.6,235.8 976.9,235.8 978.1,235.8 979.4,235.8 980.6,235.8 981.9,235.8 983.1,235.8 984.4,235.8 985.6,235.8 986.9,235.8 988.1,235.8 989.4,235.8 990.6,235.8 991.9,235.8 993.1,235.8 994.4,235.8 995.6,235.8 996.9,235.8 998.1,235.8 999.4,235.8 1000.6,235.8 1001.9,235.8 1003.1,235.8 1004.4,235.8 1005.6,235.8 1006.9,235.8 1008.1,235.8 1009.4,235.8 1010.6,235.8 1011.9,235.8 1013.1,235.8 1014.4,235.8 1015.6,235.8 1016.9,235.8 1018.1,235.8 1019.4,235.8 1020.6,235.8 1021.9,235.8 1023.1,235.8 1024.4,235.8 1025.6,235.8 1026.9,235.8 1028.1,235.8 1029.4,235.8 1030.6,235.8 1031.9,235.8 1033.1,235.8 1034.4,235.8 1035.6,235.8 1036.9,235.8 1038.1,235.8 1039.4,235.8 1040.6,235.8 1041.9,235.8 1043.1,235.8 1044.4,235.8 1045.6,235.8 1046.9,235.8 1048.1,235.8 1049.4,235.8 1050.6,235.8 1051.9,235.8 1053.1,235.8 1054.4,235.8 1055.6,235.8 1056.9,235.8 1058.1,235.8 1059.4,235.8 1060.6,235.8 1061.9,235.8 1063.1,235.8 1064.4,235.8 1065.6,235.8 1066.9,235.8 1068.1,235.8 1069.4,235.8 1070.6,235.8 1071.9,235.8 1073.1,235.8 1074.4,235.8 1075.6,235.8 1076.9,235.8 1078.1,235.8 1079.4,235.8 1080.6,235.8 1081.9,235.8 1083.1,235.8 1084.4,235.8 1085.6,235.8 1086.9,235.8 1088.1,235.8 1089.4,235.8 1090.6,235.8 1091.9,235.8 1093.1,235.8 1094.4,235.8 1095.6,235.8 1096.9,235.8 1098.1,235.8 1099.4,235.8 1100.6,235.8 1101.9,235.8 1103.1,235.8 1104.4,235.8 1105.6,235.8 1106.9,235.8 1108.1,235.8 1109.4,235.8 1110.6,235.8 1111.9,235.8 1113.1,235.8 1114.4,235.8 1115.6,235.8 1116.9,235.8 1118.1,235.8 1119.4,235.8 1120.6,235.8 1121.9,235.9 1123.1,235.9 1124.4,235.9 1125.6,235.9 1126.9,235.9 1128.1,235.9 1129.4,235.9 1130.6,235.9 1131.9,235.9 1133.1,235.9 1134.4,235.9 1135.6,235.9 1136.9,235.9 1138.1,235.9 1139.4,235.9 1140.6,235.9 1141.9,235.9 1143.1,235.9 1144.4,235.9 1145.6,235.9 1146.9,235.9 1148.1,235.9 1149.4,235.9 1150.6,235.9 1151.9,235.9 1153.1,235.9 1154.4,235.9 1155.6,235.9 1156.9,235.9 1158.1,235.9 1159.4,235.9 1160.6,235.9 1161.9,235.9 1163.1,235.9 1164.4,235.9 1165.6,235.9 1166.9,235.9 1168.1,235.9 1169.4,235.9 1170.6,235.9 1171.9,235.9 1173.1,235.9 1174.4,235.9 1175.6,235.9 1176.9,235.9 1178.1,235.9 1179.4,235.9 1180.6,235.9 1181.9,235.9 1183.1,235.9 1184.4,235.9 1185.6,236 1186.9,236 1188.1,236 1189.4,236 1190.6,236 1191.9,236 1193.1,236 1194.4,236 1195.6,236 1196.9,236 1198.1,236 1199.4,236 1200.6,236 1201.9,236 1203.1,236 1204.4,236 1205.6,236 1206.9,236 1208.1,236 1209.4,236 1210.6,236 1211.9,236 1213.1,236 1214.4,236 1215.6,236 1216.9,236 1218.1,236 1219.4,236 1220.6,236 1221.9,236 1223.1,236 1224.4,236 1225.6,236 1226.9,236 1228.1,236 1229.4,236 1230.6,236.1 1231.9,236.1 1233.1,236.1 1234.4,236.1 1235.6,236.1 1236.9,236.1 1238.1,236.1 1239.4,236.1 1240.6,236.1 1241.9,236.1 1243.1,236.1 1244.4,236.1 1245.6,236.1 1246.9,236.1 1247.8,236.1" fill="none" stroke="#3f86bd" stroke-width="1.6" stroke-linejoin="round" stroke-linecap="butt"/>
<path d="M924.4,255.1 925.6,255.1 926.9,255.1 928.1,255.1 929.4,255.1 930.6,255.1 931.9,255.1 933.1,255.1 934.4,255.1 935.6,255.1 936.9,255.1 938.1,255.1 939.4,255.1 940.6,255.1 941.9,255.1 943.1,255.1 944.4,255.1 945.6,255.1 946.9,255.1 948.1,255.1 949.4,255.1 950.6,255.1 951.9,255.1 953.1,255.1 954.4,255.1 955.6,255.1 956.9,255.1 958.1,255.1 959.4,255.1 960.6,255.1 961.9,255.1 963.1,255.1 964.4,255.1 965.6,255.1 966.9,255.1 968.1,255.1 969.4,255.1 970.6,255.1 971.9,255.1 973.1,255.1 974.4,255.1 975.6,255.1 976.9,255.1 978.1,255.1 979.4,255.1 980.6,255.1 981.9,255.1 983.1,255.1 984.4,255.1 985.6,255.1 986.9,255.1 988.1,255.1 989.4,255.1 990.6,255.1 991.9,255.1 993.1,255.1 994.4,255.1 995.6,255.1 996.9,255.1 998.1,255.1 999.4,255.1 1000.6,255.1 1001.9,255.1 1003.1,255.1 1004.4,255.1 1005.6,255.1 1006.9,255.1 1008.1,255.1 1009.4,255.1 1010.6,255.1 1011.9,255.1 1013.1,255.1 1014.4,255.1 1015.6,255.1 1016.9,255.1 1018.1,255.1 1019.4,255.1 1020.6,255.1 1021.9,255.1 1023.1,255.1 1024.4,255.1 1025.6,255.1 1026.9,255.1 1028.1,255.1 1029.4,255.1 1030.6,255.1 1031.9,255.1 1033.1,255.1 1034.4,255.1 1035.6,255.1 1036.9,255.1 1038.1,255.1 1039.4,255.1 1040.6,255.1 1041.9,255.1 1043.1,255.1 1044.4,255.1 1045.6,255.1 1046.9,255.1 1048.1,255.1 1049.4,255.1 1050.6,255.1 1051.9,255.1 1053.1,255.1 1054.4,255.1 1055.6,255.1 1056.9,255.1 1058.1,255.1 1059.4,255.1 1060.6,255.1 1061.9,255.1 1063.1,255.1 1064.4,255.1 1065.6,255.1 1066.9,255.1 1068.1,255.1 1069.4,255.1 1070.6,255.1 1071.9,255.1 1073.1,255.1 1074.4,255.1 1075.6,255.1 1076.9,255.1 1078.1,255.1 1079.4,255.1 1080.6,255.1 1081.9,255.1 1083.1,255.1 1084.4,255.1 1085.6,255.1 1086.9,255.1 1088.1,255.1 1089.4,255.1 1090.6,255.1 1091.9,255.1 1093.1,255.1 1094.4,255.1 1095.6,255.1 1096.9,255.1 1098.1,255.1 1099.4,255.1 1100.6,255.1 1101.9,255.1 1103.1,255.1 1104.4,255.1 1105.6,255.1 1106.9,255.1 1108.1,255.1 1109.4,255.1 1110.6,255.1 1111.9,255.1 1113.1,255.1 1114.4,255.1 1115.6,255.1 1116.9,255.1 1118.1,255.1 1119.4,255.1 1120.6,255.1 1121.9,255.1 1123.1,255.1 1124.4,255.1 1125.6,255.1 1126.9,255.1 1128.1,255.1 1129.4,255.1 1130.6,255.1 1131.9,255.1 1133.1,255.1 1134.4,255.1 1135.6,255.1 1136.9,255.1 1138.1,255.1 1139.4,255.1 1140.6,255.1 1141.9,255.1 1143.1,255.1 1144.4,255.1 1145.6,255.1 1146.9,255.1 1148.1,255.1 1149.4,255.1 1150.6,255.1 1151.9,255.1 1153.1,255.1 1154.4,255.1 1155.6,255.1 1156.9,255.1 1158.1,255.1 1159.4,255.1 1160.6,255.1 1161.9,255.1 1163.1,255.1 1164.4,255.1 1165.6,255.1 1166.9,255.1 1168.1,255.1 1169.4,255.1 1170.6,255.1 1171.9,255.1 1173.1,255.1 1174.4,255.1 1175.6,255.1 1176.9,255.1 1178.1,255.1 1179.4,255.1 1180.6,255.1 1181.9,255.1 1183.1,255.1 1184.4,255.1 1185.6,255.1 1186.9,255.1 1188.1,255.1 1189.4,255.1 1190.6,255.1 1191.9,255.1 1193.1,255.1 1194.4,255.1 1195.6,255.1 1196.9,255.1 1198.1,255.1 1199.4,255.1 1200.6,255.1 1201.9,255.1 1203.1,255.1 1204.4,255.1 1205.6,255.1 1206.9,255.1 1208.1,255.1 1209.4,255.1 1210.6,255.1 1211.9,255.1 1213.1,255.1 1214.4,255.1 1215.6,255.1 1216.9,255.1 1218.1,255.1 1219.4,255.1 1220.6,255.1 1221.9,255.1 1223.1,255.1 1224.4,255.1 1225.6,255.1 1226.9,255.1 1228.1,255.1 1229.4,255.1 1230.6,255.1 1231.9,255.1 1233.1,255.1 1234.4,255.1 1235.6,255.1 1236.9,255.1 1238.1,255.1 1239.4,255.1 1240.6,255.1 1241.9,255.1 1243.1,255.1 1244.4,255.1 1245.6,255.1 1246.9,255.1 1247.8,255.1" fill="none" stroke="#2b5a9f" stroke-width="1.6" stroke-linejoin="round" stroke-linecap="butt"/>
<path d="M924.4,272.5 925.6,272.5 926.9,272.5 928.1,272.5 929.4,272.5 930.6,272.5 931.9,272.5 933.1,272.5 934.4,272.5 935.6,272.5 936.9,272.6 938.1,272.6 939.4,272.6 940.6,272.6 941.9,272.6 943.1,272.6 944.4,272.6 945.6,272.6 946.9,272.6 948.1,272.6 949.4,272.6 950.6,272.6 951.9,272.6 953.1,272.6 954.4,272.6 955.6,272.6 956.9,272.6 958.1,272.6 959.4,272.6 960.6,272.6 961.9,272.6 963.1,272.6 964.4,272.6 965.6,272.6 966.9,272.6 968.1,272.6 969.4,272.6 970.6,272.6 971.9,272.6 973.1,272.6 974.4,272.6 975.6,272.6 976.9,272.6 978.1,272.6 979.4,272.6 980.6,272.6 981.9,272.6 983.1,272.6 984.4,272.6 985.6,272.6 986.9,272.6 988.1,272.6 989.4,272.6 990.6,272.6 991.9,272.6 993.1,272.6 994.4,272.6 995.6,272.6 996.9,272.6 998.1,272.6 999.4,272.6 1000.6,272.6 1001.9,272.6 1003.1,272.6 1004.4,272.6 1005.6,272.6 1006.9,272.6 1008.1,272.6 1009.4,272.6 1010.6,272.6 1011.9,272.6 1013.1,272.6 1014.4,272.6 1015.6,272.6 1016.9,272.6 1018.1,272.6 1019.4,272.6 1020.6,272.6 1021.9,272.6 1023.1,272.6 1024.4,272.6 1025.6,272.6 1026.9,272.6 1028.1,272.6 1029.4,272.6 1030.6,272.6 1031.9,272.6 1033.1,272.6 1034.4,272.6 1035.6,272.6 1036.9,272.6 1038.1,272.6 1039.4,272.6 1040.6,272.6 1041.9,272.6 1043.1,272.6 1044.4,272.6 1045.6,272.6 1046.9,272.6 1048.1,272.6 1049.4,272.6 1050.6,272.6 1051.9,272.6 1053.1,272.6 1054.4,272.6 1055.6,272.6 1056.9,272.6 1058.1,272.6 1059.4,272.6 1060.6,272.6 1061.9,272.6 1063.1,272.6 1064.4,272.6 1065.6,272.6 1066.9,272.6 1068.1,272.6 1069.4,272.6 1070.6,272.6 1071.9,272.6 1073.1,272.6 1074.4,272.6 1075.6,272.6 1076.9,272.6 1078.1,272.6 1079.4,272.6 1080.6,272.6 1081.9,272.6 1083.1,272.6 1084.4,272.6 1085.6,272.6 1086.9,272.6 1088.1,272.6 1089.4,272.6 1090.6,272.6 1091.9,272.5 1093.1,272.5 1094.4,272.5 1095.6,272.5 1096.9,272.5 1098.1,272.5 1099.4,272.5 1100.6,272.5 1101.9,272.5 1103.1,272.5 1104.4,272.5 1105.6,272.5 1106.9,272.5 1108.1,272.5 1109.4,272.5 1110.6,272.5 1111.9,272.5 1113.1,272.5 1114.4,272.5 1115.6,272.5 1116.9,272.5 1118.1,272.5 1119.4,272.5 1120.6,272.5 1121.9,272.5 1123.1,272.5 1124.4,272.5 1125.6,272.5 1126.9,272.5 1128.1,272.5 1129.4,272.5 1130.6,272.5 1131.9,272.5 1133.1,272.5 1134.4,272.5 1135.6,272.5 1136.9,272.5 1138.1,272.5 1139.4,272.5 1140.6,272.5 1141.9,272.5 1143.1,272.5 1144.4,272.5 1145.6,272.5 1146.9,272.5 1148.1,272.5 1149.4,272.5 1150.6,272.5 1151.9,272.5 1153.1,272.5 1154.4,272.5 1155.6,272.5 1156.9,272.5 1158.1,272.5 1159.4,272.5 1160.6,272.5 1161.9,272.5 1163.1,272.5 1164.4,272.5 1165.6,272.5 1166.9,272.5 1168.1,272.5 1169.4,272.5 1170.6,272.4 1171.9,272.4 1173.1,272.4 1174.4,272.4 1175.6,272.4 1176.9,272.4 1178.1,272.4 1179.4,272.4 1180.6,272.4 1181.9,272.4 1183.1,272.4 1184.4,272.4 1185.6,272.4 1186.9,272.4 1188.1,272.4 1189.4,272.4 1190.6,272.4 1191.9,272.4 1193.1,272.4 1194.4,272.4 1195.6,272.4 1196.9,272.4 1198.1,272.4 1199.4,272.4 1200.6,272.4 1201.9,272.4 1203.1,272.4 1204.4,272.4 1205.6,272.4 1206.9,272.4 1208.1,272.4 1209.4,272.4 1210.6,272.4 1211.9,272.4 1213.1,272.4 1214.4,272.4 1215.6,272.4 1216.9,272.4 1218.1,272.3 1219.4,272.3 1220.6,272.3 1221.9,272.3 1223.1,272.3 1224.4,272.3 1225.6,272.3 1226.9,272.3 1228.1,272.3 1229.4,272.3 1230.6,272.3 1231.9,272.3 1233.1,272.3 1234.4,272.3 1235.6,272.3 1236.9,272.3 1238.1,272.3 1239.4,272.3 1240.6,272.3 1241.9,272.3 1243.1,272.3 1244.4,272.3 1245.6,272.3 1246.9,272.3 1247.8,272.3" fill="none" stroke="#1b1a86" stroke-width="1.6" stroke-linejoin="round" stroke-linecap="butt"/>
<line x1="961.9" y1="79.1" x2="961.9" y2="284.6" stroke="#000" stroke-width="1.7" stroke-dasharray="7.4,5.1"/>
<line x1="1102.6" y1="67.6" x2="1102.6" y2="287.3" stroke="#000" stroke-width="1.7" stroke-dasharray="7.4,5.1"/>
<line x1="1139" y1="57.2" x2="1139" y2="287.3" stroke="#000" stroke-width="1.7" stroke-dasharray="7.4,5.1"/>
<line x1="1157.5" y1="67.5" x2="1157.5" y2="287.3" stroke="#000" stroke-width="1.7" stroke-dasharray="7.4,5.1"/>
<line x1="1225" y1="67" x2="1225" y2="287.3" stroke="#000" stroke-width="1.7" stroke-dasharray="7.4,5.1"/>
<line x1="1015.5" y1="288.1" x2="1015.5" y2="76.1" stroke="#000" stroke-width="1.5"/>
<path d="M1015.5,71.1 l-4.4,10.5 l4.4,-2.6 l4.4,2.6 Z" fill="#000" stroke="none" stroke-width="0"/>
<rect x="923.7" y="17.5" width="323.5" height="301.5" fill="none" stroke="#000" stroke-width="1.7"/>
<line x1="949.58" y1="319" x2="949.58" y2="325.3" stroke="#000" stroke-width="1.4"/>
<text x="949.58" y="343.3" font-size="19.5" fill="#000" text-anchor="middle" textLength="43.37" lengthAdjust="spacingAndGlyphs">2400</text>
<line x1="975.46" y1="319" x2="975.46" y2="322.6" stroke="#000" stroke-width="1.4"/>
<line x1="1001.34" y1="319" x2="1001.34" y2="325.3" stroke="#000" stroke-width="1.4"/>
<text x="1001.34" y="343.3" font-size="19.5" fill="#000" text-anchor="middle" textLength="43.37" lengthAdjust="spacingAndGlyphs">2200</text>
<line x1="1027.22" y1="319" x2="1027.22" y2="322.6" stroke="#000" stroke-width="1.4"/>
<line x1="1053.1" y1="319" x2="1053.1" y2="325.3" stroke="#000" stroke-width="1.4"/>
<text x="1053.1" y="343.3" font-size="19.5" fill="#000" text-anchor="middle" textLength="43.37" lengthAdjust="spacingAndGlyphs">2000</text>
<line x1="1078.98" y1="319" x2="1078.98" y2="322.6" stroke="#000" stroke-width="1.4"/>
<line x1="1104.86" y1="319" x2="1104.86" y2="325.3" stroke="#000" stroke-width="1.4"/>
<text x="1104.86" y="343.3" font-size="19.5" fill="#000" text-anchor="middle" textLength="43.37" lengthAdjust="spacingAndGlyphs">1800</text>
<line x1="1130.74" y1="319" x2="1130.74" y2="322.6" stroke="#000" stroke-width="1.4"/>
<line x1="1156.62" y1="319" x2="1156.62" y2="325.3" stroke="#000" stroke-width="1.4"/>
<text x="1156.62" y="343.3" font-size="19.5" fill="#000" text-anchor="middle" textLength="43.37" lengthAdjust="spacingAndGlyphs">1600</text>
<line x1="1182.5" y1="319" x2="1182.5" y2="322.6" stroke="#000" stroke-width="1.4"/>
<line x1="1208.38" y1="319" x2="1208.38" y2="325.3" stroke="#000" stroke-width="1.4"/>
<text x="1208.38" y="343.3" font-size="19.5" fill="#000" text-anchor="middle" textLength="43.37" lengthAdjust="spacingAndGlyphs">1400</text>
<line x1="1234.26" y1="319" x2="1234.26" y2="322.6" stroke="#000" stroke-width="1.4"/>
<text x="928.3" y="39.7" font-size="19.5" fill="#000" text-anchor="start">Pd</text>
<text x="950" y="69.4" font-size="15.2" fill="#000" text-anchor="start">CO</text>
<text x="972.8" y="76.1" font-size="10.6" fill="#000" text-anchor="start">2</text>
<text x="994" y="59.6" font-size="19.5" fill="#000" text-anchor="start" textLength="45.53" lengthAdjust="spacingAndGlyphs">1.2 V</text>
<text x="1077.3" y="37.5" font-size="15.2" fill="#000" text-anchor="start">*CHOCH</text>
<text x="1138.7" y="44.9" font-size="10.3" fill="#000" text-anchor="start">2</text>
<text x="1145" y="37.5" font-size="15.2" fill="#000" text-anchor="start">OH</text>
<text x="1076.7" y="62.1" font-size="15.2" fill="#000" text-anchor="start">*CO</text>
<text x="1106.2" y="68.7" font-size="10.5" fill="#000" text-anchor="start">M</text>
<text x="1175" y="45.7" font-size="15.2" fill="#000" text-anchor="start">COO</text>
<text x="1210" y="36" font-size="12" fill="#000" text-anchor="start">-</text>
<text x="1173.3" y="62.6" font-size="15" fill="#000" text-anchor="start">(</text>
<text x="1181.4" y="63" font-size="15.1" fill="#000" text-anchor="start">GA</text>
<text x="1207" y="62.6" font-size="15" fill="#000" text-anchor="start">)</text>
<text x="933.8" y="310.6" font-size="19.5" fill="#000" text-anchor="start" textLength="43.37" lengthAdjust="spacingAndGlyphs">2346</text>
<text x="992.1" y="310.6" font-size="19.5" fill="#000" text-anchor="start" textLength="45.53" lengthAdjust="spacingAndGlyphs">0.3 V</text>
<text x="1056.6" y="310.6" font-size="19.5" fill="#000" text-anchor="start" textLength="43.37" lengthAdjust="spacingAndGlyphs">1815</text>
<text x="1099.9" y="310.6" font-size="19.5" fill="#000" text-anchor="start" textLength="43.37" lengthAdjust="spacingAndGlyphs">1674</text>
<text x="1144.2" y="310.6" font-size="19.5" fill="#000" text-anchor="start" textLength="43.37" lengthAdjust="spacingAndGlyphs">1590</text>
<text x="1194" y="310.6" font-size="19.5" fill="#000" text-anchor="start" textLength="43.37" lengthAdjust="spacingAndGlyphs">1345</text>
<path d="M1139,45 L1143.2,54.2 L1139,54.02 L1134.8,54.2 Z" fill="#000" stroke="none" stroke-width="0"/>
<line x1="1139" y1="53" x2="1139" y2="61.8" stroke="#000" stroke-width="1.7"/>
<line x1="1158" y1="62.6" x2="1164.5" y2="57" stroke="#000" stroke-width="2"/>
<path d="M1170,52.2 L1165.49,61.95 L1162.75,58.5 L1159.72,55.31 Z" fill="#000" stroke="none" stroke-width="0"/>
<line x1="1224.6" y1="63.2" x2="1218" y2="57.8" stroke="#000" stroke-width="2"/>
<path d="M1211.8,52.6 L1222.14,55.53 L1219.16,58.77 L1216.48,62.27 Z" fill="#000" stroke="none" stroke-width="0"/>
<text x="996.1" y="375.4" font-size="19.3" fill="#000" text-anchor="start" textLength="114.6" lengthAdjust="spacing">Wavenumber</text>
<text x="1124.2" y="374.8" font-size="20" fill="#000" text-anchor="start">(</text>
<text x="1134.1" y="375.4" font-size="19.3" fill="#000" text-anchor="start">cm</text>
<text x="1160.4" y="363.1" font-size="11.5" fill="#000" text-anchor="start">-1</text>
<text x="1175.3" y="374.8" font-size="20" fill="#000" text-anchor="start">)</text>
<text transform="translate(899.6,263.7) rotate(-90)" font-size="19.3" fill="#000" textLength="102.5" lengthAdjust="spacing">Absorbance</text>
<path d="M884.5,142 Q893.25,155.2 902,142 Q893.25,152.5 884.5,142Z" fill="#000" stroke="#000" stroke-width="0.5" stroke-linejoin="round"/>
<text transform="translate(899.6,137.9) rotate(-90)" font-size="19.3" fill="#000">a.u.</text>
<path d="M884.5,105.5 Q893.25,92.1 902,105.5 Q893.25,94.8 884.5,105.5Z" fill="#000" stroke="#000" stroke-width="0.5" stroke-linejoin="round"/>
</g>
<g id="p4">
<defs>
<radialGradient id="gPd" cx="0.5" cy="0.5" r="0.5" fx="0.5" fy="0.55"><stop offset="0" stop-color="#dcfcff"/><stop offset="0.1" stop-color="#a2eeff"/><stop offset="0.24" stop-color="#5cc4ec"/><stop offset="0.42" stop-color="#2c93c9"/><stop offset="0.78" stop-color="#227db2"/><stop offset="0.93" stop-color="#16628c"/><stop offset="1" stop-color="#0b4262"/></radialGradient>
<radialGradient id="gPd2" cx="0.5" cy="0.5" r="0.5" fx="0.5" fy="0.55"><stop offset="0" stop-color="#d8fcff"/><stop offset="0.08" stop-color="#9eeeff"/><stop offset="0.2" stop-color="#45b4e2"/><stop offset="0.36" stop-color="#1f84b9"/><stop offset="0.78" stop-color="#19719f"/><stop offset="0.93" stop-color="#115a82"/><stop offset="1" stop-color="#083a58"/></radialGradient>
<radialGradient id="gBi" cx="0.5" cy="0.5" r="0.5" fx="0.5" fy="0.54"><stop offset="0" stop-color="#ffffff"/><stop offset="0.11" stop-color="#ffffff"/><stop offset="0.24" stop-color="#bcb7f5"/><stop offset="0.42" stop-color="#8c85df"/><stop offset="0.8" stop-color="#7e77d3"/><stop offset="0.94" stop-color="#6862b8"/><stop offset="1" stop-color="#4c4790"/></radialGradient>
<radialGradient id="gC" cx="0.5" cy="0.5" r="0.5" fx="0.46" fy="0.5"><stop offset="0" stop-color="#fff2d6"/><stop offset="0.12" stop-color="#c99866"/><stop offset="0.38" stop-color="#8c5b33"/><stop offset="0.8" stop-color="#704626"/><stop offset="1" stop-color="#40260f"/></radialGradient>
<radialGradient id="gO" cx="0.5" cy="0.5" r="0.5" fx="0.47" fy="0.5"><stop offset="0" stop-color="#ffdada"/><stop offset="0.1" stop-color="#ff5c5c"/><stop offset="0.32" stop-color="#e91111"/><stop offset="0.78" stop-color="#c80505"/><stop offset="1" stop-color="#7a0000"/></radialGradient>
<radialGradient id="gH" cx="0.5" cy="0.5" r="0.5" fx="0.48" fy="0.5"><stop offset="0" stop-color="#ffffff"/><stop offset="0.22" stop-color="#faeaea"/><stop offset="0.55" stop-color="#eacaca"/><stop offset="0.85" stop-color="#dcb6b6"/><stop offset="1" stop-color="#a88282"/></radialGradient>
</defs>
<clipPath id="c_egbi"><rect x="302.92" y="398.73" width="100.85" height="140"/></clipPath>
<g clip-path="url(#c_egbi)">
<rect x="302.92" y="505.64" width="100.85" height="34.09" fill="#2f9ccf" stroke="none" stroke-width="0"/>
<circle cx="296.3" cy="493.03" r="22.85" fill="url(#gBi)"/>
<circle cx="337.27" cy="493.03" r="16.55" fill="url(#gPd2)"/>
<circle cx="412.12" cy="496.97" r="19.7" fill="url(#gPd2)"/>
<circle cx="375.88" cy="504.85" r="15.76" fill="url(#gPd2)"/>
<circle cx="326.24" cy="507.21" r="18.91" fill="url(#gPd2)"/>
<circle cx="412.12" cy="512.73" r="18.91" fill="url(#gPd2)"/>
<circle cx="364.06" cy="518.24" r="24.9" fill="url(#gBi)"/>
<circle cx="321.52" cy="520.61" r="18.91" fill="url(#gPd2)"/>
<circle cx="359.34" cy="532.43" r="18.12" fill="url(#gPd2)"/>
<circle cx="313.64" cy="535.58" r="17.65" fill="url(#gPd2)"/>
<circle cx="351.46" cy="540.31" r="23.64" fill="url(#gBi)"/>
<circle cx="397.15" cy="533.21" r="17.65" fill="url(#gPd2)"/>
<circle cx="321.52" cy="466.56" r="10.24" fill="url(#gO)"/>
<circle cx="319.15" cy="478.85" r="3.94" fill="url(#gH)"/>
<circle cx="331.76" cy="475.7" r="10.72" fill="url(#gC)"/>
<circle cx="326.24" cy="467.82" r="6.3" fill="url(#gH)"/>
<circle cx="327.5" cy="492.24" r="6.3" fill="url(#gH)"/>
<circle cx="359.02" cy="458.05" r="6.62" fill="url(#gH)"/>
<circle cx="354.61" cy="472.55" r="10.72" fill="url(#gC)"/>
<circle cx="364.06" cy="497.76" r="6.3" fill="url(#gH)"/>
<circle cx="364.85" cy="482.79" r="10.72" fill="url(#gO)"/>
</g>
<clipPath id="c_egpd"><rect x="302.94" y="579.62" width="101.09" height="140"/></clipPath>
<g clip-path="url(#c_egpd)">
<rect x="311.57" y="668.14" width="92.46" height="52.48" fill="#2f9ccf" stroke="none" stroke-width="0"/>
<rect x="302.94" y="685.4" width="101.09" height="35.22" fill="#2f9ccf" stroke="none" stroke-width="0"/>
<circle cx="328.83" cy="663.11" r="17.98" fill="url(#gPd)"/>
<circle cx="373.41" cy="663.11" r="17.98" fill="url(#gPd)"/>
<circle cx="410.79" cy="663.83" r="17.26" fill="url(#gPd)"/>
<circle cx="315.17" cy="682.52" r="18.69" fill="url(#gPd)"/>
<circle cx="354.71" cy="682.52" r="18.69" fill="url(#gPd)"/>
<circle cx="394.98" cy="682.52" r="18.69" fill="url(#gPd)"/>
<circle cx="298.63" cy="701.22" r="18.69" fill="url(#gPd)"/>
<circle cx="338.17" cy="701.22" r="18.69" fill="url(#gPd)"/>
<circle cx="379.16" cy="701.22" r="18.69" fill="url(#gPd)"/>
<circle cx="416.55" cy="701.22" r="18.69" fill="url(#gPd)"/>
<circle cx="322.36" cy="721.35" r="18.69" fill="url(#gPd)"/>
<circle cx="363.34" cy="721.35" r="18.69" fill="url(#gPd)"/>
<circle cx="402.17" cy="721.35" r="18.69" fill="url(#gPd)"/>
<circle cx="343.21" cy="646.57" r="9.78" fill="url(#gO)"/>
<circle cx="376.28" cy="668.14" r="5.03" fill="url(#gH)"/>
<circle cx="344.36" cy="660.23" r="10.35" fill="url(#gC)"/>
<circle cx="336.02" cy="652.32" r="6.04" fill="url(#gH)"/>
<circle cx="371.25" cy="648.01" r="6.04" fill="url(#gH)"/>
<circle cx="365.5" cy="661.67" r="10.35" fill="url(#gC)"/>
<circle cx="338.17" cy="674.61" r="6.04" fill="url(#gH)"/>
<circle cx="364.06" cy="687.55" r="5.75" fill="url(#gH)"/>
<circle cx="366.22" cy="673.17" r="10.35" fill="url(#gO)"/>
</g>
<clipPath id="c_chohpd"><rect x="515.88" y="367.44" width="100.85" height="140"/></clipPath>
<g clip-path="url(#c_chohpd)">
<rect x="520.82" y="453.83" width="95.9" height="54.61" fill="#2f9ccf" stroke="none" stroke-width="0"/>
<rect x="515.88" y="466.84" width="100.85" height="41.6" fill="#2f9ccf" stroke="none" stroke-width="0"/>
<circle cx="535.13" cy="450.58" r="18.87" fill="url(#gPd)"/>
<circle cx="578.07" cy="451.88" r="18.87" fill="url(#gPd)"/>
<circle cx="617.11" cy="452.53" r="18.22" fill="url(#gPd)"/>
<circle cx="519.52" cy="465.54" r="18.87" fill="url(#gPd)"/>
<circle cx="559.86" cy="472.05" r="18.22" fill="url(#gPd)"/>
<circle cx="601.5" cy="468.8" r="18.87" fill="url(#gPd)"/>
<circle cx="507.81" cy="482.46" r="16.92" fill="url(#gPd)"/>
<circle cx="545.54" cy="482.46" r="18.87" fill="url(#gPd)"/>
<circle cx="588.48" cy="483.76" r="16.92" fill="url(#gPd)"/>
<circle cx="621.01" cy="482.46" r="13.01" fill="url(#gPd)"/>
<circle cx="530.58" cy="496.77" r="18.87" fill="url(#gPd)"/>
<circle cx="570.92" cy="495.47" r="18.87" fill="url(#gPd)"/>
<circle cx="609.3" cy="498.07" r="17.57" fill="url(#gPd)"/>
<circle cx="555.95" cy="444.07" r="8.46" fill="url(#gO)"/>
<circle cx="547.5" cy="453.83" r="4.55" fill="url(#gH)"/>
<circle cx="564.67" cy="444.07" r="5.86" fill="url(#gH)"/>
<circle cx="560.51" cy="456.43" r="10.15" fill="url(#gC)"/>
<circle cx="547.5" cy="462.68" r="5.86" fill="url(#gH)"/>
<circle cx="591.09" cy="462.94" r="5.2" fill="url(#gH)"/>
<circle cx="577.42" cy="469.45" r="10.15" fill="url(#gC)"/>
<circle cx="585.23" cy="475.3" r="10.15" fill="url(#gO)"/>
<circle cx="574.17" cy="478.56" r="5.86" fill="url(#gH)"/>
</g>
<clipPath id="c_ochbi"><rect x="516.11" y="551.35" width="100.66" height="140"/></clipPath>
<g clip-path="url(#c_ochbi)">
<rect x="516.11" y="659.71" width="100.66" height="32.64" fill="#2f9ccf" stroke="none" stroke-width="0"/>
<circle cx="511.5" cy="635.26" r="23.01" fill="url(#gBi)"/>
<circle cx="548.89" cy="635.26" r="17.26" fill="url(#gPd2)"/>
<circle cx="586.28" cy="651.08" r="18.69" fill="url(#gPd2)"/>
<circle cx="625.11" cy="655.4" r="15.82" fill="url(#gPd2)"/>
<circle cx="534.51" cy="652.52" r="18.69" fill="url(#gPd2)"/>
<circle cx="574.78" cy="665.46" r="28.04" fill="url(#gBi)"/>
<circle cx="619.36" cy="669.78" r="18.69" fill="url(#gPd2)"/>
<circle cx="527.32" cy="668.34" r="18.69" fill="url(#gPd2)"/>
<circle cx="558.96" cy="679.84" r="16.54" fill="url(#gPd2)"/>
<circle cx="606.41" cy="681.28" r="18.69" fill="url(#gPd2)"/>
<circle cx="518.69" cy="684.16" r="17.26" fill="url(#gPd2)"/>
<circle cx="548.89" cy="696.38" r="25.17" fill="url(#gBi)"/>
<circle cx="603.54" cy="695.66" r="17.26" fill="url(#gPd2)"/>
<circle cx="575.5" cy="610.1" r="6.47" fill="url(#gH)"/>
<circle cx="564.71" cy="617.29" r="11.79" fill="url(#gO)"/>
<circle cx="560.4" cy="639.58" r="12.22" fill="url(#gC)"/>
<circle cx="546.74" cy="645.33" r="6.76" fill="url(#gH)"/>
<circle cx="594.91" cy="647.49" r="6.47" fill="url(#gH)"/>
<circle cx="579.81" cy="653.96" r="12.22" fill="url(#gC)"/>
<circle cx="585.56" cy="653.24" r="6.76" fill="url(#gH)"/>
<circle cx="575.5" cy="676.25" r="11.79" fill="url(#gO)"/>
</g>
<clipPath id="c_chobi"><rect x="724.38" y="380.63" width="100.66" height="140"/></clipPath>
<g clip-path="url(#c_chobi)">
<rect x="724.38" y="479.64" width="100.66" height="41.98" fill="#2f9ccf" stroke="none" stroke-width="0"/>
<circle cx="731.57" cy="471.02" r="18.69" fill="url(#gPd2)"/>
<circle cx="757.45" cy="476.05" r="15.82" fill="url(#gPd2)"/>
<circle cx="810.66" cy="472.45" r="17.26" fill="url(#gPd2)"/>
<circle cx="797.72" cy="476.77" r="21.57" fill="url(#gBi)"/>
<circle cx="825.04" cy="485.4" r="14.38" fill="url(#gPd2)"/>
<circle cx="748.83" cy="488.27" r="15.82" fill="url(#gPd2)"/>
<circle cx="790.53" cy="488.27" r="15.82" fill="url(#gPd2)"/>
<circle cx="727.26" cy="522.79" r="15.82" fill="url(#gPd2)"/>
<circle cx="764.64" cy="524.22" r="14.38" fill="url(#gPd2)"/>
<circle cx="802.03" cy="524.22" r="14.38" fill="url(#gPd2)"/>
<circle cx="740.92" cy="501.22" r="18.69" fill="url(#gPd2)"/>
<circle cx="817.13" cy="504.09" r="17.98" fill="url(#gPd2)"/>
<circle cx="780.46" cy="501.22" r="23.73" fill="url(#gBi)"/>
<circle cx="742.64" cy="446.57" r="6.47" fill="url(#gH)"/>
<circle cx="738.76" cy="467.42" r="9.35" fill="url(#gO)"/>
<circle cx="748.11" cy="458.79" r="10.07" fill="url(#gC)"/>
<circle cx="772.55" cy="453.04" r="9.35" fill="url(#gO)"/>
<circle cx="780.46" cy="460.95" r="4.31" fill="url(#gH)"/>
<circle cx="766.8" cy="464.55" r="9.78" fill="url(#gC)"/>
<circle cx="767.52" cy="459.51" r="6.04" fill="url(#gH)"/>
<circle cx="767.52" cy="478.21" r="6.04" fill="url(#gH)"/>
</g>
<clipPath id="c_chopd"><rect x="722.22" y="568.5" width="100.95" height="140"/></clipPath>
<g clip-path="url(#c_chopd)">
<rect x="722.22" y="667.52" width="100.95" height="41.98" fill="#2f9ccf" stroke="none" stroke-width="0"/>
<circle cx="728.69" cy="653.14" r="17.98" fill="url(#gPd)"/>
<circle cx="825.04" cy="648.83" r="17.98" fill="url(#gPd)"/>
<circle cx="767.52" cy="657.45" r="17.26" fill="url(#gPd)"/>
<circle cx="807.79" cy="660.33" r="17.98" fill="url(#gPd)"/>
<circle cx="748.83" cy="668.96" r="17.98" fill="url(#gPd)"/>
<circle cx="790.53" cy="671.83" r="15.82" fill="url(#gPd)"/>
<circle cx="825.04" cy="674.71" r="14.38" fill="url(#gPd)"/>
<circle cx="748.83" cy="713.54" r="15.82" fill="url(#gPd)"/>
<circle cx="787.65" cy="716.41" r="14.38" fill="url(#gPd)"/>
<circle cx="733.73" cy="681.9" r="17.98" fill="url(#gPd)"/>
<circle cx="718.63" cy="696.28" r="15.82" fill="url(#gPd)"/>
<circle cx="772.55" cy="687.65" r="18.69" fill="url(#gPd)"/>
<circle cx="812.1" cy="690.53" r="18.69" fill="url(#gPd)"/>
<circle cx="766.8" cy="635.17" r="8.34" fill="url(#gO)"/>
<circle cx="758.89" cy="643.79" r="3.6" fill="url(#gH)"/>
<circle cx="774.71" cy="634.45" r="5.75" fill="url(#gH)"/>
<circle cx="771.12" cy="645.95" r="10.07" fill="url(#gC)"/>
<circle cx="758.89" cy="652.42" r="5.75" fill="url(#gH)"/>
<circle cx="799.16" cy="656.74" r="5.03" fill="url(#gH)"/>
<circle cx="787.65" cy="658.89" r="10.07" fill="url(#gC)"/>
<circle cx="789.81" cy="671.12" r="10.07" fill="url(#gO)"/>
</g>
<clipPath id="c_gapd"><rect x="932.94" y="407.75" width="103.11" height="140"/></clipPath>
<g clip-path="url(#c_gapd)">
<rect x="940.13" y="492.39" width="95.92" height="56.36" fill="#2f9ccf" stroke="none" stroke-width="0"/>
<rect x="932.94" y="503.89" width="103.11" height="44.86" fill="#2f9ccf" stroke="none" stroke-width="0"/>
<circle cx="955.95" cy="483.76" r="17.98" fill="url(#gPd)"/>
<circle cx="997.65" cy="487.36" r="17.98" fill="url(#gPd)"/>
<circle cx="1036.48" cy="492.39" r="17.98" fill="url(#gPd)"/>
<circle cx="935.82" cy="496.7" r="17.98" fill="url(#gPd)"/>
<circle cx="977.52" cy="501.02" r="17.26" fill="url(#gPd)"/>
<circle cx="1017.79" cy="503.89" r="17.26" fill="url(#gPd)"/>
<circle cx="954.51" cy="512.52" r="17.98" fill="url(#gPd)"/>
<circle cx="994.78" cy="518.27" r="15.82" fill="url(#gPd)"/>
<circle cx="1032.17" cy="519.71" r="17.26" fill="url(#gPd)"/>
<circle cx="948.76" cy="555.66" r="14.38" fill="url(#gPd)"/>
<circle cx="989.03" cy="558.54" r="14.38" fill="url(#gPd)"/>
<circle cx="932.94" cy="525.46" r="17.98" fill="url(#gPd)"/>
<circle cx="1045.11" cy="539.84" r="14.38" fill="url(#gPd)"/>
<circle cx="971.05" cy="529.78" r="17.98" fill="url(#gPd)"/>
<circle cx="1010.6" cy="533.37" r="17.98" fill="url(#gPd)"/>
<circle cx="973.93" cy="478.73" r="7.91" fill="url(#gO)"/>
<circle cx="970.33" cy="479.73" r="5.75" fill="url(#gH)"/>
<circle cx="970.33" cy="490.95" r="9.35" fill="url(#gC)"/>
<circle cx="958.83" cy="498.14" r="5.75" fill="url(#gH)"/>
<circle cx="999.09" cy="488.07" r="5.75" fill="url(#gH)"/>
<circle cx="987.59" cy="501.02" r="9.35" fill="url(#gC)"/>
<circle cx="1003.12" cy="498.86" r="9.35" fill="url(#gO)"/>
<circle cx="988.31" cy="513.96" r="9.78" fill="url(#gO)"/>
</g>
<clipPath id="c_gabi"><rect x="932.94" y="582.79" width="103.11" height="140"/></clipPath>
<g clip-path="url(#c_gabi)">
<rect x="932.94" y="682.52" width="103.11" height="41.26" fill="#2f9ccf" stroke="none" stroke-width="0"/>
<circle cx="1003.41" cy="665.26" r="21.57" fill="url(#gBi)"/>
<circle cx="953.07" cy="669.58" r="17.26" fill="url(#gPd2)"/>
<circle cx="1037.92" cy="668.14" r="15.82" fill="url(#gPd2)"/>
<circle cx="941.57" cy="681.08" r="17.26" fill="url(#gPd2)"/>
<circle cx="1026.41" cy="689.71" r="17.26" fill="url(#gPd2)"/>
<circle cx="977.52" cy="692.59" r="27.32" fill="url(#gBi)"/>
<circle cx="934.38" cy="694.03" r="17.26" fill="url(#gPd2)"/>
<circle cx="927.19" cy="711.28" r="15.82" fill="url(#gPd2)"/>
<circle cx="1045.11" cy="711.28" r="14.38" fill="url(#gPd2)"/>
<circle cx="965.3" cy="707.69" r="19.41" fill="url(#gPd2)"/>
<circle cx="1009.16" cy="706.97" r="19.41" fill="url(#gPd2)"/>
<circle cx="988.31" cy="648.01" r="9.78" fill="url(#gO)"/>
<circle cx="982.55" cy="660.95" r="10.79" fill="url(#gC)"/>
<circle cx="976.8" cy="649.45" r="6.47" fill="url(#gH)"/>
<circle cx="971.05" cy="671.02" r="6.04" fill="url(#gH)"/>
<circle cx="1014.91" cy="655.92" r="5.75" fill="url(#gH)"/>
<circle cx="1000.53" cy="669.58" r="10.35" fill="url(#gC)"/>
<circle cx="1018.5" cy="666.7" r="10.35" fill="url(#gO)"/>
<circle cx="999.81" cy="681.08" r="10.35" fill="url(#gO)"/>
</g>
<circle cx="112.7" cy="651.5" r="13.2" fill="url(#gPd2)"/>
<circle cx="182.2" cy="652" r="14" fill="url(#gBi)"/>
<circle cx="248.5" cy="653.2" r="11.3" fill="url(#gC)"/>
<circle cx="115.6" cy="697.8" r="10.8" fill="url(#gO)"/>
<circle cx="169.9" cy="697.5" r="8.6" fill="url(#gH)"/>
<text x="130.6" y="659.8" font-size="20.6" fill="#000" text-anchor="start">Pd</text>
<text x="202.5" y="660.1" font-size="20.6" fill="#000" text-anchor="start">Bi</text>
<text x="267.5" y="660.6" font-size="20.6" fill="#000" text-anchor="start">C</text>
<text x="130.3" y="705.1" font-size="20.6" fill="#000" text-anchor="start">O</text>
<text x="184.8" y="705.1" font-size="20.6" fill="#000" text-anchor="start">H</text>
<path d="M88.2,549.4 194,549.4 195.1,549.9" fill="none" stroke="#2460cc" stroke-width="2.65" stroke-linejoin="round" stroke-linecap="round"/>
<path d="M292.4,590.5 293.5,591 408.1,591 409.2,590.4" fill="none" stroke="#2460cc" stroke-width="2.65" stroke-linejoin="round" stroke-linecap="round"/>
<path d="M507.4,538.9 508.5,538.3 616,538.3 617.1,538.6" fill="none" stroke="#2460cc" stroke-width="2.65" stroke-linejoin="round" stroke-linecap="round"/>
<path d="M716.9,568.4 718,568.7 826.8,568.7 827.9,569" fill="none" stroke="#2460cc" stroke-width="2.65" stroke-linejoin="round" stroke-linecap="round"/>
<path d="M928.6,596 929.7,596.3 1036.8,596.3 1037.9,595.2" fill="none" stroke="#2460cc" stroke-width="2.65" stroke-linejoin="round" stroke-linecap="round"/>
<path d="M1140.6,494.9 1141.7,493.8 1247,493.8" fill="none" stroke="#2460cc" stroke-width="2.65" stroke-linejoin="round" stroke-linecap="round"/>
<line x1="196" y1="550.24" x2="202.6" y2="553" stroke="#2460cc" stroke-width="2.6"/>
<line x1="208.2" y1="555.34" x2="214.8" y2="558.1" stroke="#2460cc" stroke-width="2.6"/>
<line x1="220.4" y1="560.44" x2="227" y2="563.2" stroke="#2460cc" stroke-width="2.6"/>
<line x1="232.6" y1="565.54" x2="239.2" y2="568.3" stroke="#2460cc" stroke-width="2.6"/>
<line x1="244.8" y1="570.64" x2="251.4" y2="573.4" stroke="#2460cc" stroke-width="2.6"/>
<line x1="257" y1="575.74" x2="263.6" y2="578.5" stroke="#2460cc" stroke-width="2.6"/>
<line x1="269.2" y1="580.84" x2="275.8" y2="583.6" stroke="#2460cc" stroke-width="2.6"/>
<line x1="281.4" y1="585.94" x2="288" y2="588.7" stroke="#2460cc" stroke-width="2.6"/>
<line x1="414.2" y1="587.8" x2="420.8" y2="584.33" stroke="#2460cc" stroke-width="2.6"/>
<line x1="426.4" y1="581.39" x2="433" y2="577.93" stroke="#2460cc" stroke-width="2.6"/>
<line x1="438.6" y1="574.99" x2="445.2" y2="571.53" stroke="#2460cc" stroke-width="2.6"/>
<line x1="450.8" y1="568.59" x2="457.4" y2="565.12" stroke="#2460cc" stroke-width="2.6"/>
<line x1="463" y1="562.18" x2="469.6" y2="558.72" stroke="#2460cc" stroke-width="2.6"/>
<line x1="475.2" y1="555.78" x2="481.8" y2="552.31" stroke="#2460cc" stroke-width="2.6"/>
<line x1="487.4" y1="549.38" x2="494" y2="545.91" stroke="#2460cc" stroke-width="2.6"/>
<line x1="499.6" y1="542.97" x2="506.2" y2="539.51" stroke="#2460cc" stroke-width="2.6"/>
<line x1="620" y1="539.49" x2="626.6" y2="541.46" stroke="#2460cc" stroke-width="2.6"/>
<line x1="632.2" y1="543.13" x2="638.8" y2="545.1" stroke="#2460cc" stroke-width="2.6"/>
<line x1="644.4" y1="546.76" x2="651" y2="548.73" stroke="#2460cc" stroke-width="2.6"/>
<line x1="656.6" y1="550.4" x2="663.2" y2="552.37" stroke="#2460cc" stroke-width="2.6"/>
<line x1="668.8" y1="554.04" x2="675.4" y2="556" stroke="#2460cc" stroke-width="2.6"/>
<line x1="681" y1="557.67" x2="687.6" y2="559.64" stroke="#2460cc" stroke-width="2.6"/>
<line x1="693.2" y1="561.31" x2="699.8" y2="563.28" stroke="#2460cc" stroke-width="2.6"/>
<line x1="705.4" y1="564.94" x2="712" y2="566.91" stroke="#2460cc" stroke-width="2.6"/>
<line x1="826.3" y1="568.57" x2="832.9" y2="570.34" stroke="#2460cc" stroke-width="2.6"/>
<line x1="838.5" y1="571.84" x2="845.1" y2="573.61" stroke="#2460cc" stroke-width="2.6"/>
<line x1="850.7" y1="575.11" x2="857.3" y2="576.88" stroke="#2460cc" stroke-width="2.6"/>
<line x1="862.9" y1="578.38" x2="869.5" y2="580.15" stroke="#2460cc" stroke-width="2.6"/>
<line x1="875.1" y1="581.66" x2="881.7" y2="583.43" stroke="#2460cc" stroke-width="2.6"/>
<line x1="887.3" y1="584.93" x2="893.9" y2="586.7" stroke="#2460cc" stroke-width="2.6"/>
<line x1="899.5" y1="588.2" x2="906.1" y2="589.97" stroke="#2460cc" stroke-width="2.6"/>
<line x1="911.7" y1="591.47" x2="918.3" y2="593.24" stroke="#2460cc" stroke-width="2.6"/>
<line x1="923.9" y1="594.74" x2="929.7" y2="596.3" stroke="#2460cc" stroke-width="2.6"/>
<line x1="1044.4" y1="588.87" x2="1051" y2="582.42" stroke="#2460cc" stroke-width="2.6"/>
<line x1="1056.6" y1="576.95" x2="1063.2" y2="570.5" stroke="#2460cc" stroke-width="2.6"/>
<line x1="1068.8" y1="565.03" x2="1075.4" y2="558.58" stroke="#2460cc" stroke-width="2.6"/>
<line x1="1081" y1="553.11" x2="1087.6" y2="546.66" stroke="#2460cc" stroke-width="2.6"/>
<line x1="1093.2" y1="541.19" x2="1099.8" y2="534.74" stroke="#2460cc" stroke-width="2.6"/>
<line x1="1105.4" y1="529.27" x2="1112" y2="522.82" stroke="#2460cc" stroke-width="2.6"/>
<line x1="1117.6" y1="517.35" x2="1124.2" y2="510.9" stroke="#2460cc" stroke-width="2.6"/>
<line x1="1129.8" y1="505.43" x2="1136.4" y2="498.98" stroke="#2460cc" stroke-width="2.6"/>
<path d="M88.2,549.4 194,549.4 195.1,549.8" fill="none" stroke="#df3d40" stroke-width="2.65" stroke-linejoin="round" stroke-linecap="round"/>
<path d="M292.4,581.9 293.5,582.3 408.1,582.3 409.2,581.9" fill="none" stroke="#df3d40" stroke-width="2.65" stroke-linejoin="round" stroke-linecap="round"/>
<path d="M507.4,544.8 508.5,544.4 616,544.4 617.1,544.5" fill="none" stroke="#df3d40" stroke-width="2.65" stroke-linejoin="round" stroke-linecap="round"/>
<path d="M716.9,557.4 718,557.5 826.8,557.5 827.9,558" fill="none" stroke="#df3d40" stroke-width="2.65" stroke-linejoin="round" stroke-linecap="round"/>
<path d="M928.6,605.1 929.7,605.6 1036.8,605.6 1037.9,604.5" fill="none" stroke="#df3d40" stroke-width="2.65" stroke-linejoin="round" stroke-linecap="round"/>
<path d="M1140.6,498.8 1141.7,497.7 1247,497.7" fill="none" stroke="#df3d40" stroke-width="2.65" stroke-linejoin="round" stroke-linecap="round"/>
<line x1="196" y1="550.06" x2="202.6" y2="552.24" stroke="#df3d40" stroke-width="2.6"/>
<line x1="208.2" y1="554.1" x2="214.8" y2="556.28" stroke="#df3d40" stroke-width="2.6"/>
<line x1="220.4" y1="558.13" x2="227" y2="560.31" stroke="#df3d40" stroke-width="2.6"/>
<line x1="232.6" y1="562.16" x2="239.2" y2="564.35" stroke="#df3d40" stroke-width="2.6"/>
<line x1="244.8" y1="566.2" x2="251.4" y2="568.38" stroke="#df3d40" stroke-width="2.6"/>
<line x1="257" y1="570.23" x2="263.6" y2="572.41" stroke="#df3d40" stroke-width="2.6"/>
<line x1="269.2" y1="574.27" x2="275.8" y2="576.45" stroke="#df3d40" stroke-width="2.6"/>
<line x1="281.4" y1="578.3" x2="288" y2="580.48" stroke="#df3d40" stroke-width="2.6"/>
<line x1="414.2" y1="580" x2="420.8" y2="577.51" stroke="#df3d40" stroke-width="2.6"/>
<line x1="426.4" y1="575.39" x2="433" y2="572.9" stroke="#df3d40" stroke-width="2.6"/>
<line x1="438.6" y1="570.79" x2="445.2" y2="568.3" stroke="#df3d40" stroke-width="2.6"/>
<line x1="450.8" y1="566.18" x2="457.4" y2="563.69" stroke="#df3d40" stroke-width="2.6"/>
<line x1="463" y1="561.58" x2="469.6" y2="559.08" stroke="#df3d40" stroke-width="2.6"/>
<line x1="475.2" y1="556.97" x2="481.8" y2="554.48" stroke="#df3d40" stroke-width="2.6"/>
<line x1="487.4" y1="552.37" x2="494" y2="549.87" stroke="#df3d40" stroke-width="2.6"/>
<line x1="499.6" y1="547.76" x2="506.2" y2="545.27" stroke="#df3d40" stroke-width="2.6"/>
<line x1="620" y1="544.91" x2="626.6" y2="545.76" stroke="#df3d40" stroke-width="2.6"/>
<line x1="632.2" y1="546.48" x2="638.8" y2="547.33" stroke="#df3d40" stroke-width="2.6"/>
<line x1="644.4" y1="548.05" x2="651" y2="548.9" stroke="#df3d40" stroke-width="2.6"/>
<line x1="656.6" y1="549.61" x2="663.2" y2="550.46" stroke="#df3d40" stroke-width="2.6"/>
<line x1="668.8" y1="551.18" x2="675.4" y2="552.03" stroke="#df3d40" stroke-width="2.6"/>
<line x1="681" y1="552.75" x2="687.6" y2="553.6" stroke="#df3d40" stroke-width="2.6"/>
<line x1="693.2" y1="554.31" x2="699.8" y2="555.16" stroke="#df3d40" stroke-width="2.6"/>
<line x1="705.4" y1="555.88" x2="712" y2="556.73" stroke="#df3d40" stroke-width="2.6"/>
<line x1="826.3" y1="557.27" x2="832.9" y2="560.35" stroke="#df3d40" stroke-width="2.6"/>
<line x1="838.5" y1="562.97" x2="845.1" y2="566.05" stroke="#df3d40" stroke-width="2.6"/>
<line x1="850.7" y1="568.67" x2="857.3" y2="571.76" stroke="#df3d40" stroke-width="2.6"/>
<line x1="862.9" y1="574.37" x2="869.5" y2="577.46" stroke="#df3d40" stroke-width="2.6"/>
<line x1="875.1" y1="580.08" x2="881.7" y2="583.16" stroke="#df3d40" stroke-width="2.6"/>
<line x1="887.3" y1="585.78" x2="893.9" y2="588.87" stroke="#df3d40" stroke-width="2.6"/>
<line x1="899.5" y1="591.48" x2="906.1" y2="594.57" stroke="#df3d40" stroke-width="2.6"/>
<line x1="911.7" y1="597.19" x2="918.3" y2="600.27" stroke="#df3d40" stroke-width="2.6"/>
<line x1="923.9" y1="602.89" x2="929.7" y2="605.6" stroke="#df3d40" stroke-width="2.6"/>
<line x1="1044.4" y1="597.78" x2="1051" y2="590.99" stroke="#df3d40" stroke-width="2.6"/>
<line x1="1056.6" y1="585.23" x2="1063.2" y2="578.44" stroke="#df3d40" stroke-width="2.6"/>
<line x1="1068.8" y1="572.68" x2="1075.4" y2="565.9" stroke="#df3d40" stroke-width="2.6"/>
<line x1="1081" y1="560.14" x2="1087.6" y2="553.35" stroke="#df3d40" stroke-width="2.6"/>
<line x1="1093.2" y1="547.59" x2="1099.8" y2="540.8" stroke="#df3d40" stroke-width="2.6"/>
<line x1="1105.4" y1="535.04" x2="1112" y2="528.25" stroke="#df3d40" stroke-width="2.6"/>
<line x1="1117.6" y1="522.49" x2="1124.2" y2="515.7" stroke="#df3d40" stroke-width="2.6"/>
<line x1="1129.8" y1="509.94" x2="1136.4" y2="503.15" stroke="#df3d40" stroke-width="2.6"/>
<rect x="88.2" y="407.1" width="1159.4" height="317.8" fill="none" stroke="#000" stroke-width="1.9"/>
<line x1="76.9" y1="469.7" x2="88.2" y2="469.7" stroke="#000" stroke-width="1.7"/>
<text x="69.6" y="474.4" font-size="23.4" fill="#000" text-anchor="end">1</text>
<line x1="76.9" y1="549.4" x2="88.2" y2="549.4" stroke="#000" stroke-width="1.7"/>
<text x="69.6" y="554.1" font-size="23.4" fill="#000" text-anchor="end">0</text>
<line x1="76.9" y1="629.1" x2="88.2" y2="629.1" stroke="#000" stroke-width="1.7"/>
<text x="69.6" y="633.8" font-size="23.4" fill="#000" text-anchor="end">-1</text>
<line x1="76.9" y1="708.8" x2="88.2" y2="708.8" stroke="#000" stroke-width="1.7"/>
<text x="69.6" y="713.5" font-size="23.4" fill="#000" text-anchor="end">-2</text>
<line x1="82.2" y1="429.85" x2="88.2" y2="429.85" stroke="#000" stroke-width="1.7"/>
<line x1="82.2" y1="509.55" x2="88.2" y2="509.55" stroke="#000" stroke-width="1.7"/>
<line x1="82.2" y1="589.25" x2="88.2" y2="589.25" stroke="#000" stroke-width="1.7"/>
<line x1="82.2" y1="668.95" x2="88.2" y2="668.95" stroke="#000" stroke-width="1.7"/>
<text transform="translate(31.6,614) rotate(-90)" font-size="25.2" fill="#000">Δ</text>
<text transform="translate(31.6,596.4) rotate(-90)" font-size="25.2" fill="#000">G</text>
<path d="M14.3,561 Q24.8,577 35.3,561 Q24.8,573.8 14.3,561Z" fill="#000" stroke="#000" stroke-width="0.5" stroke-linejoin="round"/>
<text transform="translate(31.8,556) rotate(-90)" font-size="24.2" fill="#000">eV</text>
<path d="M14.3,520.4 Q24.8,503.8 35.3,520.4 Q24.8,507 14.3,520.4Z" fill="#000" stroke="#000" stroke-width="0.5" stroke-linejoin="round"/>
<line x1="103.8" y1="435.3" x2="165.2" y2="435.3" stroke="#2460cc" stroke-width="2.9" stroke-linecap="round"/>
<line x1="103.8" y1="488.6" x2="165.2" y2="488.6" stroke="#df3d40" stroke-width="2.9" stroke-linecap="round"/>
<text x="170.62" y="444.4" font-size="24" fill="#000" textLength="30.24" lengthAdjust="spacingAndGlyphs">Pd</text>
<text x="170.62" y="497.4" font-size="24" fill="#000" textLength="52.46" lengthAdjust="spacingAndGlyphs">PdBi</text>
<text x="111.96" y="540.1" font-size="24" fill="#000" textLength="71.23" lengthAdjust="spacingAndGlyphs">EG + *</text>
<text x="326.62" y="570.9" font-size="24" fill="#df3d40" textLength="44.51" lengthAdjust="spacingAndGlyphs">EG*</text>
<text x="326.62" y="616.8" font-size="24" fill="#2460cc" textLength="43.45" lengthAdjust="spacingAndGlyphs">EG*</text>
<text x="487.96" y="529.6" font-size="24" fill="#2460cc" textLength="159.41" lengthAdjust="spacingAndGlyphs">CHOHCH<tspan font-size="16.3" dy="5.6">2</tspan><tspan dy="-5.6" font-size="0.24"> </tspan>OH*</text>
<text x="493.8" y="575.4" font-size="24" fill="#df3d40" textLength="151.41" lengthAdjust="spacingAndGlyphs">OCH<tspan font-size="16.3" dy="5.6">2</tspan><tspan dy="-5.6" font-size="0.24"> </tspan>CH<tspan font-size="16.3" dy="5.6">2</tspan><tspan dy="-5.6" font-size="0.24"> </tspan>OH*</text>
<text x="703.8" y="549.1" font-size="24" fill="#df3d40" textLength="143.32" lengthAdjust="spacingAndGlyphs">CHOCH<tspan font-size="16.3" dy="5.6">2</tspan><tspan dy="-5.6" font-size="0.24"> </tspan>OH*</text>
<text x="703.8" y="596.8" font-size="24" fill="#2460cc" textLength="142.3" lengthAdjust="spacingAndGlyphs">CHOCH<tspan font-size="16.3" dy="5.6">2</tspan><tspan dy="-5.6" font-size="0.24"> </tspan>OH*</text>
<text x="942.68" y="579.7" font-size="24" fill="#2460cc" textLength="43.93" lengthAdjust="spacingAndGlyphs">GA*</text>
<text x="949.8" y="634.5" font-size="24" fill="#df3d40" textLength="43.43" lengthAdjust="spacingAndGlyphs">GA*</text>
<text x="1157.74" y="453.5" font-size="24" fill="#000" textLength="72.33" lengthAdjust="spacingAndGlyphs">GA + *</text>
<text x="1157.83" y="482.9" font-size="24" fill="#000" textLength="83.2" lengthAdjust="spacingAndGlyphs">0.70 eV</text>
<text x="1157.83" y="526.1" font-size="24" fill="#000" textLength="83.2" lengthAdjust="spacingAndGlyphs">0.65 eV</text>
<text x="420.24" y="530.4" font-size="24" fill="#000" textLength="37.97" lengthAdjust="spacingAndGlyphs">OH</text>
<text x="445.18" y="625.8" font-size="24" fill="#000" textLength="44.72" lengthAdjust="spacingAndGlyphs">H<tspan font-size="16.3" dy="5.6">2</tspan><tspan dy="-5.6" font-size="0.24"> </tspan>O</text>
<text x="662.34" y="502.2" font-size="24" fill="#000" textLength="46.17" lengthAdjust="spacingAndGlyphs">H<tspan font-size="16.3" dy="5.6">2</tspan><tspan dy="-5.6" font-size="0.24"> </tspan>O</text>
<text x="641.24" y="603.9" font-size="24" fill="#000" textLength="37.83" lengthAdjust="spacingAndGlyphs">OH</text>
<text x="873.1" y="550.1" font-size="24" fill="#000" textLength="31.4" lengthAdjust="spacingAndGlyphs">2H</text>
<text x="851.84" y="647" font-size="24" fill="#000" textLength="46.59" lengthAdjust="spacingAndGlyphs">H<tspan font-size="16.3" dy="5.6">2</tspan><tspan dy="-5.6" font-size="0.24"> </tspan>O</text>
<path d="M432.8,534.4 Q439.5,549.5 451.6,557.4" fill="none" stroke="#000" stroke-width="2.9" stroke-linecap="round"/><path d="M454.3,557.4 449.8,548.9 448.6,549.3 450.9,558.7Z" fill="#000" stroke="#000" stroke-width="0.6" stroke-linejoin="round"/><path d="M452.5,556.3 443,557.9 443,559.2 452.7,559.9Z" fill="#000" stroke="#000" stroke-width="0.6" stroke-linejoin="round"/>
<path d="M456,573.6 Q466.5,586 467,602.6" fill="none" stroke="#000" stroke-width="2.9" stroke-linecap="round"/><path d="M468.5,604.8 473,596.2 471.9,595.5 465.6,602.8Z" fill="#000" stroke="#000" stroke-width="0.6" stroke-linejoin="round"/><path d="M468.5,602.7 461.7,595.8 460.7,596.6 465.6,604.9Z" fill="#000" stroke="#000" stroke-width="0.6" stroke-linejoin="round"/>
<path d="M671.9,546.2 Q684.5,531 688.4,513" fill="none" stroke="#000" stroke-width="2.9" stroke-linecap="round"/><path d="M687.5,510.5 681.1,517.7 681.9,518.7 689.9,513.2Z" fill="#000" stroke="#000" stroke-width="0.6" stroke-linejoin="round"/><path d="M687,512.6 691.9,520.9 693.1,520.4 690.3,511.1Z" fill="#000" stroke="#000" stroke-width="0.6" stroke-linejoin="round"/>
<path d="M649.5,582.8 Q658.5,574.5 664.4,562.6" fill="none" stroke="#000" stroke-width="2.9" stroke-linecap="round"/><path d="M664.1,559.9 656.1,565.4 656.7,566.5 665.8,563.1Z" fill="#000" stroke="#000" stroke-width="0.6" stroke-linejoin="round"/><path d="M663.2,561.8 665.9,571.1 667.2,570.9 666.7,561.2Z" fill="#000" stroke="#000" stroke-width="0.6" stroke-linejoin="round"/>
<path d="M886.7,576.7 Q898,566 902.2,552" fill="none" stroke="#000" stroke-width="2.9" stroke-linecap="round"/><path d="M901.5,549.4 894.5,556.2 895.3,557.2 903.6,552.3Z" fill="#000" stroke="#000" stroke-width="0.6" stroke-linejoin="round"/><path d="M900.8,551.4 905.1,560.1 906.3,559.7 904.2,550.3Z" fill="#000" stroke="#000" stroke-width="0.6" stroke-linejoin="round"/>
<path d="M874.7,623.9 Q876,604.5 887.6,591.8" fill="none" stroke="#000" stroke-width="2.9" stroke-linecap="round"/><path d="M888,589.2 878.9,592.2 879.1,593.5 888.8,592.7Z" fill="#000" stroke="#000" stroke-width="0.6" stroke-linejoin="round"/><path d="M886.6,590.7 886.7,600.4 888,600.5 890.2,591.1Z" fill="#000" stroke="#000" stroke-width="0.6" stroke-linejoin="round"/>
</g>
</svg>
</body></html>
